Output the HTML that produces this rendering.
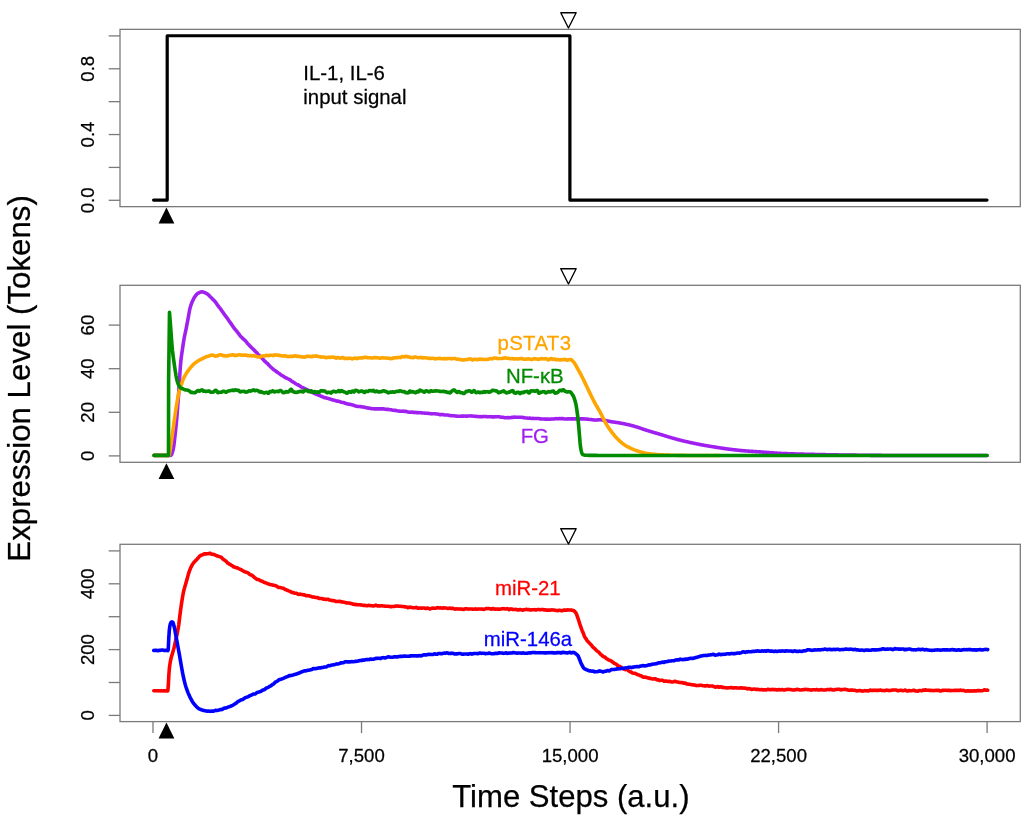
<!DOCTYPE html>
<html><head><meta charset="utf-8"><style>
html,body{margin:0;padding:0;background:#fff;width:1024px;height:818px;overflow:hidden}
svg{display:block;will-change:transform}
text{font-family:"Liberation Sans", sans-serif;fill:#000;stroke:#000;stroke-width:0.25px}
.tk{font-size:18.6px}
.an{font-size:20.4px}
.ti{font-size:31.3px}
</style></head><body>
<svg width="1024" height="818" viewBox="0 0 1024 818">
<rect width="1024" height="818" fill="#fff"/>
<rect x="120.0" y="29.35" width="900.3" height="177.3" fill="none" stroke="#7a7a7a" stroke-width="1.3"/>
<rect x="120.0" y="285.3" width="900.3" height="177.0" fill="none" stroke="#7a7a7a" stroke-width="1.3"/>
<rect x="120.0" y="544.3" width="900.3" height="177.3" fill="none" stroke="#7a7a7a" stroke-width="1.3"/>
<line x1="108.7" y1="200.30" x2="120.0" y2="200.30" stroke="#7a7a7a" stroke-width="1.3"/>
<line x1="108.7" y1="167.42" x2="120.0" y2="167.42" stroke="#7a7a7a" stroke-width="1.3"/>
<line x1="108.7" y1="134.54" x2="120.0" y2="134.54" stroke="#7a7a7a" stroke-width="1.3"/>
<line x1="108.7" y1="101.66" x2="120.0" y2="101.66" stroke="#7a7a7a" stroke-width="1.3"/>
<line x1="108.7" y1="68.78" x2="120.0" y2="68.78" stroke="#7a7a7a" stroke-width="1.3"/>
<line x1="108.7" y1="35.90" x2="120.0" y2="35.90" stroke="#7a7a7a" stroke-width="1.3"/>
<text transform="translate(93.50 200.30) rotate(-90) scale(1 1.035)" text-anchor="middle" class="tk">0.0</text>
<text transform="translate(93.50 134.54) rotate(-90) scale(1 1.035)" text-anchor="middle" class="tk">0.4</text>
<text transform="translate(93.50 68.78) rotate(-90) scale(1 1.035)" text-anchor="middle" class="tk">0.8</text>
<line x1="108.7" y1="455.90" x2="120.0" y2="455.90" stroke="#7a7a7a" stroke-width="1.3"/>
<line x1="108.7" y1="412.30" x2="120.0" y2="412.30" stroke="#7a7a7a" stroke-width="1.3"/>
<line x1="108.7" y1="368.70" x2="120.0" y2="368.70" stroke="#7a7a7a" stroke-width="1.3"/>
<line x1="108.7" y1="325.10" x2="120.0" y2="325.10" stroke="#7a7a7a" stroke-width="1.3"/>
<text transform="translate(93.50 455.90) rotate(-90) scale(1 1.035)" text-anchor="middle" class="tk">0</text>
<text transform="translate(93.50 412.30) rotate(-90) scale(1 1.035)" text-anchor="middle" class="tk">20</text>
<text transform="translate(93.50 368.70) rotate(-90) scale(1 1.035)" text-anchor="middle" class="tk">40</text>
<text transform="translate(93.50 325.10) rotate(-90) scale(1 1.035)" text-anchor="middle" class="tk">60</text>
<line x1="108.7" y1="715.40" x2="120.0" y2="715.40" stroke="#7a7a7a" stroke-width="1.3"/>
<line x1="108.7" y1="682.50" x2="120.0" y2="682.50" stroke="#7a7a7a" stroke-width="1.3"/>
<line x1="108.7" y1="649.60" x2="120.0" y2="649.60" stroke="#7a7a7a" stroke-width="1.3"/>
<line x1="108.7" y1="616.70" x2="120.0" y2="616.70" stroke="#7a7a7a" stroke-width="1.3"/>
<line x1="108.7" y1="583.80" x2="120.0" y2="583.80" stroke="#7a7a7a" stroke-width="1.3"/>
<line x1="108.7" y1="550.90" x2="120.0" y2="550.90" stroke="#7a7a7a" stroke-width="1.3"/>
<text transform="translate(93.50 715.40) rotate(-90) scale(1 1.035)" text-anchor="middle" class="tk">0</text>
<text transform="translate(93.50 649.60) rotate(-90) scale(1 1.035)" text-anchor="middle" class="tk">200</text>
<text transform="translate(93.50 583.80) rotate(-90) scale(1 1.035)" text-anchor="middle" class="tk">400</text>
<line x1="153.00" y1="721.6" x2="153.00" y2="733.1" stroke="#7a7a7a" stroke-width="1.3"/>
<text transform="translate(153.00 761.90) scale(1 1.035)" text-anchor="middle" class="tk">0</text>
<line x1="361.52" y1="721.6" x2="361.52" y2="733.1" stroke="#7a7a7a" stroke-width="1.3"/>
<text transform="translate(361.52 761.90) scale(1 1.035)" text-anchor="middle" class="tk">7,500</text>
<line x1="570.05" y1="721.6" x2="570.05" y2="733.1" stroke="#7a7a7a" stroke-width="1.3"/>
<text transform="translate(570.05 761.90) scale(1 1.035)" text-anchor="middle" class="tk">15,000</text>
<line x1="778.57" y1="721.6" x2="778.57" y2="733.1" stroke="#7a7a7a" stroke-width="1.3"/>
<text transform="translate(778.57 761.90) scale(1 1.035)" text-anchor="middle" class="tk">22,500</text>
<line x1="987.09" y1="721.6" x2="987.09" y2="733.1" stroke="#7a7a7a" stroke-width="1.3"/>
<text transform="translate(987.09 761.90) scale(1 1.035)" text-anchor="middle" class="tk">30,000</text>
<polyline points="153.60,200.10 167.20,200.10 167.20,35.75 569.90,35.75 569.90,200.10 987.00,200.10" fill="none" stroke="#000000" stroke-width="3.2" stroke-linejoin="round" stroke-linecap="round"/>
<polyline points="154.00,455.40 170.30,455.40 170.80,455.30 171.30,454.85 171.80,454.01 172.30,452.54 172.80,450.77 173.30,448.62 173.80,445.89 174.30,442.08 174.80,437.53 175.30,432.89 175.80,428.29 176.30,423.40 176.80,417.93 177.30,411.39 177.80,404.89 178.30,398.72 178.80,391.74 179.30,383.65 179.80,374.86 180.30,367.34 180.80,361.56 181.30,357.04 181.80,353.45 182.30,350.22 182.80,346.85 183.30,343.46 183.80,340.27 184.30,337.47 184.80,334.99 185.30,332.64 185.80,330.28 186.30,327.79 186.80,325.26 187.30,322.70 187.80,320.12 188.30,317.42 188.80,314.53 189.30,311.69 189.80,309.15 190.30,307.15 190.80,305.51 191.30,304.07 191.80,302.78 192.30,301.60 192.80,300.50 193.30,299.45 193.80,298.47 194.30,297.58 194.80,296.79 195.30,296.08 195.80,295.41 196.30,294.78 196.80,294.21 197.30,293.73 197.80,293.36 198.30,293.08 198.80,292.81 199.30,292.57 199.80,292.35 200.30,292.16 200.80,292.01 201.30,291.91 201.80,291.85 202.30,291.85 202.80,291.94 203.30,292.10 203.80,292.27 204.30,292.45 204.80,292.64 205.30,292.88 205.80,293.12 206.30,293.34 206.80,293.62 207.30,293.96 207.80,294.32 208.30,294.74 208.80,295.22 209.30,295.75 209.80,296.30 210.30,296.80 210.80,297.26 211.30,297.75 211.80,298.24 212.30,298.71 212.80,299.25 213.30,299.79 213.80,300.28 214.30,300.78 214.80,301.33 215.30,301.89 215.80,302.48 216.30,303.16 216.80,303.91 217.30,304.67 217.80,305.40 218.30,306.09 218.80,306.75 219.30,307.36 219.80,307.94 220.30,308.55 220.80,309.28 221.30,310.08 221.80,310.80 222.30,311.44 222.80,312.09 223.30,312.78 223.80,313.50 224.30,314.23 224.80,314.93 225.30,315.64 225.80,316.33 226.30,316.96 226.80,317.61 227.30,318.30 227.80,319.04 228.30,319.80 228.80,320.55 229.30,321.26 229.80,321.96 230.30,322.66 230.80,323.36 231.30,324.07 231.80,324.81 232.30,325.55 232.80,326.28 233.30,326.98 233.80,327.67 234.30,328.35 234.80,329.00 235.30,329.58 235.80,330.14 236.30,330.73 236.80,331.35 237.30,332.01 237.80,332.65 238.30,333.27 238.80,333.93 239.30,334.61 239.80,335.27 240.30,335.89 240.80,336.48 241.30,336.98 241.80,337.42 242.30,337.91 242.80,338.43 243.30,338.93 243.80,339.38 244.30,339.83 244.80,340.30 245.30,340.79 245.80,341.31 246.30,341.87 246.80,342.52 247.30,343.19 247.80,343.75 248.30,344.25 248.80,344.76 249.30,345.33 249.80,345.88 250.30,346.36 250.80,346.82 251.30,347.35 251.80,347.93 252.30,348.42 252.80,348.79 253.30,349.20 253.80,349.73 254.30,350.30 254.80,350.85 255.30,351.37 255.80,351.82 256.30,352.26 256.80,352.77 257.30,353.35 257.80,353.93 258.30,354.48 258.80,354.99 259.30,355.48 259.80,355.97 260.30,356.50 260.80,357.05 261.30,357.60 261.80,358.11 262.30,358.57 262.80,359.07 263.30,359.62 263.80,360.15 264.30,360.64 264.80,361.16 265.30,361.67 265.80,362.14 266.30,362.58 266.80,362.99 267.30,363.41 267.80,363.89 268.30,364.43 268.80,364.99 269.30,365.54 269.80,366.06 270.30,366.54 270.80,366.98 271.30,367.45 271.80,367.95 272.30,368.41 272.80,368.82 273.30,369.25 273.80,369.66 274.30,370.00 274.80,370.32 275.30,370.71 275.80,371.16 276.30,371.58 276.80,371.91 277.30,372.20 277.80,372.53 278.30,372.90 278.80,373.22 279.30,373.51 279.80,373.87 280.30,374.32 280.80,374.73 281.30,375.07 281.80,375.39 282.30,375.64 282.80,375.87 283.30,376.20 283.80,376.56 284.30,376.89 284.80,377.21 285.30,377.53 285.80,377.78 286.30,377.98 286.80,378.21 287.30,378.48 287.80,378.74 288.30,378.99 288.80,379.24 289.30,379.48 289.80,379.73 290.30,380.04 290.80,380.41 291.30,380.84 291.80,381.22 292.30,381.55 292.80,381.83 293.30,382.12 293.80,382.44 294.30,382.76 294.80,383.07 295.30,383.40 295.80,383.73 296.30,384.04 296.80,384.31 297.30,384.55 297.80,384.76 298.30,384.99 298.80,385.27 299.30,385.59 299.80,385.94 300.30,386.28 300.80,386.64 301.30,387.00 301.80,387.30 302.30,387.53 302.80,387.69 303.30,387.85 303.80,388.10 304.30,388.36 304.80,388.57 305.30,388.80 305.80,389.05 306.30,389.30 306.80,389.54 307.30,389.78 307.80,390.05 308.30,390.34 308.80,390.67 309.30,391.07 309.80,391.42 310.30,391.63 310.80,391.77 311.30,391.93 311.80,392.13 312.30,392.39 312.80,392.66 313.30,392.89 313.80,393.11 314.30,393.36 314.80,393.59 315.30,393.78 315.80,394.00 316.30,394.24 316.80,394.41 317.30,394.57 317.80,394.77 318.30,395.02 318.80,395.25 319.30,395.44 319.80,395.68 320.30,395.95 320.80,396.16 321.30,396.30 321.80,396.45 322.30,396.69 322.80,396.95 323.30,397.13 323.80,397.29 324.30,397.52 324.80,397.72 325.30,397.82 325.80,397.88 326.30,397.99 326.80,398.13 327.30,398.25 327.80,398.36 328.30,398.51 328.80,398.68 329.30,398.87 329.80,399.00 330.30,399.10 330.80,399.26 331.30,399.50 331.80,399.75 332.30,399.89 332.80,399.92 333.30,399.97 333.80,400.11 334.30,400.30 334.80,400.44 335.30,400.57 335.80,400.72 336.30,400.92 336.80,401.09 337.30,401.15 337.80,401.16 338.30,401.21 338.80,401.33 339.30,401.47 339.80,401.64 340.30,401.84 340.80,402.05 341.30,402.22 341.80,402.35 342.30,402.45 342.80,402.49 343.30,402.50 343.80,402.59 344.30,402.78 344.80,403.03 345.30,403.27 345.80,403.45 346.30,403.57 346.80,403.72 347.30,403.90 347.80,404.04 348.30,404.12 348.80,404.21 349.30,404.31 349.80,404.35 350.30,404.36 350.80,404.46 351.30,404.65 351.80,404.82 352.30,404.92 352.80,405.00 353.30,405.12 353.80,405.31 354.30,405.52 354.80,405.71 355.30,405.88 355.80,406.05 356.30,406.20 356.80,406.28 357.30,406.35 357.80,406.43 358.30,406.50 358.80,406.49 359.30,406.48 359.80,406.53 360.30,406.59 360.80,406.62 361.30,406.69 361.80,406.81 362.30,406.92 362.80,406.99 363.30,407.01 363.80,407.07 364.30,407.22 364.80,407.38 365.30,407.47 365.80,407.55 366.30,407.65 366.80,407.78 367.30,407.92 367.80,408.04 368.30,408.09 368.80,408.08 369.30,408.11 369.80,408.21 370.30,408.38 370.80,408.54 371.30,408.65 371.80,408.69 372.30,408.67 372.80,408.69 373.30,408.76 373.80,408.81 374.30,408.83 374.80,408.84 375.30,408.85 375.80,408.87 376.30,408.87 376.80,408.84 377.30,408.83 377.80,408.86 378.30,408.87 378.80,408.85 379.30,408.84 379.80,408.84 380.30,408.83 380.80,408.84 381.30,408.86 381.80,408.88 382.30,408.88 382.80,408.84 383.30,408.82 383.80,408.87 384.30,409.00 384.80,409.15 385.30,409.24 385.80,409.31 386.30,409.35 386.80,409.34 387.30,409.35 387.80,409.37 388.30,409.38 388.80,409.42 389.30,409.54 389.80,409.68 390.30,409.77 390.80,409.82 391.30,409.86 391.80,409.96 392.30,410.10 392.80,410.20 393.30,410.26 393.80,410.31 394.30,410.35 394.80,410.37 395.30,410.39 395.80,410.46 396.30,410.57 396.80,410.72 397.30,410.84 397.80,410.91 398.30,410.98 398.80,411.06 399.30,411.13 399.80,411.16 400.30,411.21 400.80,411.25 401.30,411.24 401.80,411.21 402.30,411.18 402.80,411.16 403.30,411.17 403.80,411.23 404.30,411.31 404.80,411.40 405.30,411.40 405.80,411.34 406.30,411.41 406.80,411.59 407.30,411.76 407.80,411.88 408.30,411.99 408.80,412.12 409.30,412.22 409.80,412.28 410.30,412.27 410.80,412.21 411.30,412.15 411.80,412.15 412.30,412.23 412.80,412.37 413.30,412.44 413.80,412.38 414.30,412.32 414.80,412.35 415.30,412.45 415.80,412.55 416.30,412.62 416.80,412.60 417.30,412.56 417.80,412.60 418.30,412.64 418.80,412.69 419.30,412.72 419.80,412.69 420.30,412.65 420.80,412.69 421.30,412.81 421.80,412.93 422.30,412.97 422.80,412.94 423.30,412.95 423.80,413.01 424.30,413.07 424.80,413.13 425.30,413.18 425.80,413.22 426.30,413.26 426.80,413.30 427.30,413.32 427.80,413.34 428.30,413.39 428.80,413.44 429.30,413.51 429.80,413.56 430.30,413.61 430.80,413.67 431.30,413.77 431.80,413.83 432.30,413.81 432.80,413.76 433.30,413.75 433.80,413.76 434.30,413.76 434.80,413.77 435.30,413.83 435.80,413.92 436.30,414.00 436.80,414.03 437.30,414.02 437.80,414.03 438.30,414.15 438.80,414.36 439.30,414.54 439.80,414.62 440.30,414.64 440.80,414.64 441.30,414.61 441.80,414.55 442.30,414.52 442.80,414.56 443.30,414.69 443.80,414.83 444.30,414.91 444.80,414.93 445.30,414.94 445.80,414.95 446.30,414.93 446.80,414.93 447.30,414.99 447.80,415.08 448.30,415.20 448.80,415.31 449.30,415.41 449.80,415.50 450.30,415.57 450.80,415.63 451.30,415.66 451.80,415.68 452.30,415.72 452.80,415.73 453.30,415.70 453.80,415.71 454.30,415.79 454.80,415.90 455.30,416.00 455.80,416.07 456.30,416.11 456.80,416.16 457.30,416.20 457.80,416.20 458.30,416.18 458.80,416.21 459.30,416.24 459.80,416.24 460.30,416.22 460.80,416.18 461.30,416.13 461.80,416.09 462.30,416.10 462.80,416.14 463.30,416.13 463.80,416.08 464.30,416.04 464.80,416.06 465.30,416.13 465.80,416.17 466.30,416.12 466.80,416.09 467.30,416.11 467.80,416.09 468.30,416.02 468.80,416.00 469.30,416.00 469.80,415.97 470.30,415.94 470.80,415.92 471.30,415.91 471.80,415.94 472.30,416.00 472.80,416.09 473.30,416.19 473.80,416.21 474.30,416.22 474.80,416.27 475.30,416.34 475.80,416.39 476.30,416.41 476.80,416.45 477.30,416.49 477.80,416.53 478.30,416.58 478.80,416.64 479.30,416.68 479.80,416.65 480.30,416.63 480.80,416.66 481.30,416.71 481.80,416.71 482.30,416.66 482.80,416.59 483.30,416.56 483.80,416.55 484.30,416.54 484.80,416.52 485.30,416.53 485.80,416.58 486.30,416.63 486.80,416.66 487.30,416.74 487.80,416.82 488.30,416.82 488.80,416.79 489.30,416.73 489.80,416.67 490.30,416.67 490.80,416.73 491.30,416.81 491.80,416.84 492.30,416.84 492.80,416.86 493.30,416.86 493.80,416.86 494.30,416.86 494.80,416.83 495.30,416.82 495.80,416.82 496.30,416.78 496.80,416.74 497.30,416.71 497.80,416.72 498.30,416.74 498.80,416.74 499.30,416.79 499.80,416.90 500.30,417.02 500.80,417.12 501.30,417.22 501.80,417.29 502.30,417.31 502.80,417.32 503.30,417.36 503.80,417.47 504.30,417.62 504.80,417.72 505.30,417.75 505.80,417.73 506.30,417.71 506.80,417.67 507.30,417.65 507.80,417.63 508.30,417.64 508.80,417.69 509.30,417.71 509.80,417.67 510.30,417.59 510.80,417.54 511.30,417.49 511.80,417.41 512.30,417.37 512.80,417.36 513.30,417.30 513.80,417.19 514.30,417.12 514.80,417.15 515.30,417.21 515.80,417.21 516.30,417.19 516.80,417.19 517.30,417.20 517.80,417.21 518.30,417.23 518.80,417.23 519.30,417.21 519.80,417.19 520.30,417.21 520.80,417.26 521.30,417.31 521.80,417.36 522.30,417.41 522.80,417.50 523.30,417.59 523.80,417.64 524.30,417.71 524.80,417.83 525.30,417.93 525.80,417.96 526.30,417.96 526.80,417.99 527.30,418.08 527.80,418.17 528.30,418.21 528.80,418.17 529.30,418.11 529.80,418.11 530.30,418.19 530.80,418.31 531.30,418.41 531.80,418.46 532.30,418.44 532.80,418.40 533.30,418.40 533.80,418.45 534.30,418.51 534.80,418.53 535.30,418.52 535.80,418.52 536.30,418.52 536.80,418.51 537.30,418.54 537.80,418.56 538.30,418.54 538.80,418.57 539.30,418.67 539.80,418.78 540.30,418.86 540.80,418.91 541.30,418.94 541.80,418.99 542.30,419.03 542.80,419.00 543.30,418.96 543.80,418.98 544.30,419.05 544.80,419.08 545.30,419.06 545.80,419.08 546.30,419.11 546.80,419.11 547.30,419.09 547.80,419.11 548.30,419.16 548.80,419.22 549.30,419.25 549.80,419.22 550.30,419.16 550.80,419.07 551.30,419.01 551.80,419.02 552.30,419.01 552.80,418.98 553.30,418.97 553.80,418.96 554.30,418.91 554.80,418.82 555.30,418.68 555.80,418.64 556.30,418.67 556.80,418.69 557.30,418.70 557.80,418.72 558.30,418.67 558.80,418.60 559.30,418.61 559.80,418.68 560.30,418.69 560.80,418.64 561.30,418.63 561.80,418.63 562.30,418.64 562.80,418.66 563.30,418.72 563.80,418.83 564.30,418.94 564.80,419.00 565.30,419.01 565.80,419.01 566.30,418.99 566.80,418.94 567.30,418.88 567.80,418.87 568.30,418.87 568.80,418.85 569.30,418.88 569.80,418.94 570.30,418.94 570.80,418.87 571.30,418.83 571.80,418.84 572.30,418.84 572.80,418.84 573.30,418.85 573.80,418.87 574.30,418.90 574.80,418.93 575.30,418.90 575.80,418.85 576.30,418.86 576.80,418.88 577.30,418.84 577.80,418.78 578.30,418.78 578.80,418.82 579.30,418.86 579.80,418.90 580.30,418.92 580.80,418.91 581.30,418.89 581.80,418.87 582.30,418.85 582.80,418.87 583.30,418.88 583.80,418.86 584.30,418.88 584.80,418.94 585.30,419.00 585.80,419.07 586.30,419.16 586.80,419.19 587.30,419.16 587.80,419.16 588.30,419.23 588.80,419.34 589.30,419.42 589.80,419.46 590.30,419.50 590.80,419.54 591.30,419.57 591.80,419.65 592.30,419.75 592.80,419.81 593.30,419.87 593.80,419.94 594.30,419.98 594.80,420.01 595.30,420.05 595.80,420.09 596.30,420.07 596.80,420.00 597.30,419.94 597.80,419.88 598.30,419.84 598.80,419.80 599.30,419.75 599.80,419.74 600.30,419.76 600.80,419.81 601.30,419.85 601.80,419.90 602.30,419.96 602.80,420.01 603.30,420.08 603.80,420.15 604.30,420.24 604.80,420.33 605.30,420.43 605.80,420.54 606.30,420.65 606.80,420.76 607.30,420.88 607.80,420.99 608.30,421.11 608.80,421.22 609.30,421.33 609.80,421.43 610.30,421.53 610.80,421.62 611.30,421.70 611.80,421.78 612.30,421.86 612.80,421.93 613.30,422.01 613.80,422.08 614.30,422.15 614.80,422.22 615.30,422.29 615.80,422.36 616.30,422.42 616.80,422.50 617.30,422.57 617.80,422.64 618.30,422.72 618.80,422.80 619.30,422.88 619.80,422.96 620.30,423.05 620.80,423.15 621.30,423.24 621.80,423.33 622.30,423.43 622.80,423.53 623.30,423.63 623.80,423.73 624.30,423.84 624.80,423.95 625.30,424.05 625.80,424.16 626.30,424.28 626.80,424.39 627.30,424.50 627.80,424.62 628.30,424.74 628.80,424.86 629.30,424.98 629.80,425.10 630.30,425.22 630.80,425.35 631.30,425.47 631.80,425.60 632.30,425.73 632.80,425.86 633.30,425.99 633.80,426.13 634.30,426.26 634.80,426.40 635.30,426.55 635.80,426.70 636.30,426.85 636.80,427.00 637.30,427.16 637.80,427.32 638.30,427.49 638.80,427.65 639.30,427.82 639.80,427.99 640.30,428.16 640.80,428.33 641.30,428.50 641.80,428.67 642.30,428.84 642.80,429.01 643.30,429.18 643.80,429.35 644.30,429.52 644.80,429.69 645.30,429.86 645.80,430.02 646.30,430.18 646.80,430.34 647.30,430.50 647.80,430.66 648.30,430.81 648.80,430.96 649.30,431.12 649.80,431.27 650.30,431.42 650.80,431.57 651.30,431.72 651.80,431.87 652.30,432.02 652.80,432.17 653.30,432.32 653.80,432.47 654.30,432.61 654.80,432.76 655.30,432.91 655.80,433.06 656.30,433.21 656.80,433.35 657.30,433.50 657.80,433.65 658.30,433.80 658.80,433.95 659.30,434.09 659.80,434.24 660.30,434.39 660.80,434.54 661.30,434.69 661.80,434.84 662.30,434.99 662.80,435.14 663.30,435.30 663.80,435.45 664.30,435.60 664.80,435.76 665.30,435.91 665.80,436.07 666.30,436.22 666.80,436.38 667.30,436.53 667.80,436.68 668.30,436.84 668.80,436.99 669.30,437.14 669.80,437.29 670.30,437.44 670.80,437.59 671.30,437.74 671.80,437.88 672.30,438.03 672.80,438.17 673.30,438.31 673.80,438.45 674.30,438.59 674.80,438.73 675.30,438.86 675.80,439.00 676.30,439.13 676.80,439.26 677.30,439.39 677.80,439.52 678.30,439.65 678.80,439.78 679.30,439.91 679.80,440.04 680.30,440.17 680.80,440.29 681.30,440.42 681.80,440.54 682.30,440.66 682.80,440.79 683.30,440.91 683.80,441.03 684.30,441.15 684.80,441.27 685.30,441.39 685.80,441.50 686.30,441.62 686.80,441.74 687.30,441.85 687.80,441.96 688.30,442.08 688.80,442.19 689.30,442.30 689.80,442.41 690.30,442.52 690.80,442.63 691.30,442.74 691.80,442.85 692.30,442.96 692.80,443.06 693.30,443.17 693.80,443.28 694.30,443.38 694.80,443.49 695.30,443.59 695.80,443.69 696.30,443.79 696.80,443.89 697.30,443.99 697.80,444.09 698.30,444.19 698.80,444.29 699.30,444.39 699.80,444.49 700.30,444.58 700.80,444.68 701.30,444.77 701.80,444.86 702.30,444.96 702.80,445.05 703.30,445.14 703.80,445.23 704.30,445.32 704.80,445.41 705.30,445.49 705.80,445.58 706.30,445.67 706.80,445.75 707.30,445.84 707.80,445.92 708.30,446.01 708.80,446.09 709.30,446.17 709.80,446.26 710.30,446.34 710.80,446.42 711.30,446.50 711.80,446.58 712.30,446.66 712.80,446.74 713.30,446.82 713.80,446.90 714.30,446.98 714.80,447.06 715.30,447.14 715.80,447.22 716.30,447.29 716.80,447.37 717.30,447.45 717.80,447.53 718.30,447.61 718.80,447.68 719.30,447.76 719.80,447.84 720.30,447.91 720.80,447.99 721.30,448.07 721.80,448.14 722.30,448.22 722.80,448.29 723.30,448.36 723.80,448.44 724.30,448.51 724.80,448.58 725.30,448.65 725.80,448.72 726.30,448.79 726.80,448.86 727.30,448.93 727.80,448.99 728.30,449.06 728.80,449.12 729.30,449.19 729.80,449.25 730.30,449.31 730.80,449.37 731.30,449.44 731.80,449.50 732.30,449.56 732.80,449.62 733.30,449.68 733.80,449.74 734.30,449.80 734.80,449.86 735.30,449.91 735.80,449.97 736.30,450.03 736.80,450.08 737.30,450.14 737.80,450.19 738.30,450.25 738.80,450.30 739.30,450.35 739.80,450.40 740.30,450.45 740.80,450.50 741.30,450.55 741.80,450.59 742.30,450.64 742.80,450.68 743.30,450.73 743.80,450.77 744.30,450.81 744.80,450.85 745.30,450.89 745.80,450.93 746.30,450.97 746.80,451.01 747.30,451.04 747.80,451.08 748.30,451.12 748.80,451.15 749.30,451.19 749.80,451.22 750.30,451.25 750.80,451.29 751.30,451.32 751.80,451.36 752.30,451.39 752.80,451.42 753.30,451.45 753.80,451.49 754.30,451.52 754.80,451.55 755.30,451.58 755.80,451.62 756.30,451.65 756.80,451.68 757.30,451.72 757.80,451.75 758.30,451.78 758.80,451.82 759.30,451.85 759.80,451.89 760.30,451.92 760.80,451.96 761.30,451.99 761.80,452.03 762.30,452.07 762.80,452.10 763.30,452.14 763.80,452.18 764.30,452.22 764.80,452.26 765.30,452.30 765.80,452.33 766.30,452.37 766.80,452.41 767.30,452.45 767.80,452.49 768.30,452.53 768.80,452.57 769.30,452.61 769.80,452.65 770.30,452.69 770.80,452.73 771.30,452.76 771.80,452.80 772.30,452.84 772.80,452.88 773.30,452.91 773.80,452.95 774.30,452.99 774.80,453.02 775.30,453.06 775.80,453.09 776.30,453.13 776.80,453.16 777.30,453.19 777.80,453.22 778.30,453.25 778.80,453.28 779.30,453.31 779.80,453.34 780.30,453.37 780.80,453.40 781.30,453.42 781.80,453.45 782.30,453.47 782.80,453.49 783.30,453.51 783.80,453.53 784.30,453.55 784.80,453.57 785.30,453.59 785.80,453.61 786.30,453.63 786.80,453.65 787.30,453.67 787.80,453.69 788.30,453.71 788.80,453.73 789.30,453.74 789.80,453.76 790.30,453.78 790.80,453.79 791.30,453.81 791.80,453.83 792.30,453.84 792.80,453.86 793.30,453.87 793.80,453.89 794.30,453.90 794.80,453.92 795.30,453.93 795.80,453.95 796.30,453.96 796.80,453.98 797.30,453.99 797.80,454.01 798.30,454.02 798.80,454.03 799.30,454.05 799.80,454.06 800.30,454.07 800.80,454.09 801.30,454.10 801.80,454.11 802.30,454.13 802.80,454.14 803.30,454.15 803.80,454.16 804.30,454.18 804.80,454.19 805.30,454.20 805.80,454.21 806.30,454.22 806.80,454.24 807.30,454.25 807.80,454.26 808.30,454.27 808.80,454.29 809.30,454.30 809.80,454.31 810.30,454.32 810.80,454.33 811.30,454.35 811.80,454.36 812.30,454.37 812.80,454.38 813.30,454.39 813.80,454.41 814.30,454.42 814.80,454.43 815.30,454.44 815.80,454.45 816.30,454.47 816.80,454.48 817.30,454.49 817.80,454.50 818.30,454.51 818.80,454.52 819.30,454.54 819.80,454.55 820.30,454.56 820.80,454.57 821.30,454.58 821.80,454.59 822.30,454.60 822.80,454.62 823.30,454.63 823.80,454.64 824.30,454.65 824.80,454.66 825.30,454.67 825.80,454.68 826.30,454.69 826.80,454.70 827.30,454.71 827.80,454.72 828.30,454.74 828.80,454.75 829.30,454.76 829.80,454.77 830.30,454.78 830.80,454.79 831.30,454.80 831.80,454.81 832.30,454.82 832.80,454.83 833.30,454.84 833.80,454.85 834.30,454.86 834.80,454.87 835.30,454.87 835.80,454.88 836.30,454.89 836.80,454.90 837.30,454.91 837.80,454.92 838.30,454.93 838.80,454.94 839.30,454.95 839.80,454.95 840.30,454.96 840.80,454.97 841.30,454.98 841.80,454.99 842.30,454.99 842.80,455.00 843.30,455.01 843.80,455.02 844.30,455.03 844.80,455.03 845.30,455.04 845.80,455.05 846.30,455.05 846.80,455.06 847.30,455.07 847.80,455.07 848.30,455.08 848.80,455.09 849.30,455.09 849.80,455.10 850.30,455.10 850.80,455.11 851.30,455.12 851.80,455.12 852.30,455.13 852.80,455.13 853.30,455.14 853.80,455.14 854.30,455.15 854.80,455.16 855.30,455.16 855.80,455.17 856.30,455.17 856.80,455.18 857.30,455.18 857.80,455.19 858.30,455.20 858.80,455.20 859.30,455.21 859.80,455.21 860.30,455.22 860.80,455.22 861.30,455.23 861.80,455.24 862.30,455.24 862.80,455.25 863.30,455.25 863.80,455.26 864.30,455.26 864.80,455.27 865.30,455.27 865.80,455.28 866.30,455.29 866.80,455.29 867.30,455.30 867.80,455.30 868.30,455.31 868.80,455.31 869.30,455.32 869.80,455.32 870.30,455.33 870.80,455.33 871.30,455.34 871.80,455.34 872.30,455.35 872.80,455.35 873.30,455.36 873.80,455.36 874.30,455.37 874.80,455.37 875.30,455.37 875.80,455.38 876.30,455.38 876.80,455.39 877.30,455.39 877.80,455.40 878.30,455.40 878.80,455.41 879.30,455.41 879.80,455.41 880.30,455.42 880.80,455.42 881.30,455.42 881.80,455.43 882.30,455.43 882.80,455.44 883.30,455.44 883.80,455.44 884.30,455.45 884.80,455.45 885.30,455.45 885.80,455.45 886.30,455.46 886.80,455.46 887.30,455.46 887.80,455.47 888.30,455.47 888.80,455.47 889.30,455.47 889.80,455.48 890.30,455.48 890.80,455.48 891.30,455.48 891.80,455.48 892.30,455.49 892.80,455.49 893.30,455.49 893.80,455.49 894.30,455.49 894.80,455.49 895.30,455.49 895.80,455.50 896.30,455.50 896.80,455.50 897.30,455.50 897.80,455.50 898.30,455.50 898.80,455.50 899.30,455.50 899.80,455.50 900.30,455.50 900.80,455.50 901.30,455.50 901.80,455.50 902.30,455.50 902.80,455.50 903.30,455.50 903.80,455.50 904.30,455.50 904.80,455.50 905.30,455.50 905.80,455.50 906.30,455.50 906.80,455.50 907.30,455.50 907.80,455.50 908.30,455.50 908.80,455.50 909.30,455.50 909.80,455.50 910.30,455.50 910.80,455.50 911.30,455.50 911.80,455.50 912.30,455.50 912.80,455.50 913.30,455.50 913.80,455.50 914.30,455.50 914.80,455.50 915.30,455.50 915.80,455.50 916.30,455.50 916.80,455.50 917.30,455.50 917.80,455.50 918.30,455.50 918.80,455.50 919.30,455.50 919.80,455.50 920.30,455.50 920.80,455.50 921.30,455.50 921.80,455.50 922.30,455.50 922.80,455.50 923.30,455.50 923.80,455.50 924.30,455.50 924.80,455.50 925.30,455.50 925.80,455.50 926.30,455.50 926.80,455.50 927.30,455.50 927.80,455.50 928.30,455.50 928.80,455.50 929.30,455.50 929.80,455.50 930.30,455.50 930.80,455.50 931.30,455.50 931.80,455.50 932.30,455.50 932.80,455.50 933.30,455.50 933.80,455.50 934.30,455.50 934.80,455.50 935.30,455.50 935.80,455.50 936.30,455.50 936.80,455.50 937.30,455.50 937.80,455.50 938.30,455.50 938.80,455.50 939.30,455.50 939.80,455.50 940.30,455.50 940.80,455.50 941.30,455.50 941.80,455.50 942.30,455.50 942.80,455.50 943.30,455.50 943.80,455.50 944.30,455.50 944.80,455.50 945.30,455.50 945.80,455.50 946.30,455.50 946.80,455.50 947.30,455.50 947.80,455.50 948.30,455.50 948.80,455.50 949.30,455.50 949.80,455.50 950.30,455.50 950.80,455.50 951.30,455.50 951.80,455.50 952.30,455.50 952.80,455.50 953.30,455.50 953.80,455.50 954.30,455.50 954.80,455.50 955.30,455.50 955.80,455.50 956.30,455.50 956.80,455.50 957.30,455.50 957.80,455.50 958.30,455.50 958.80,455.50 959.30,455.50 959.80,455.50 960.30,455.50 960.80,455.50 961.30,455.50 961.80,455.50 962.30,455.50 962.80,455.50 963.30,455.50 963.80,455.50 964.30,455.50 964.80,455.50 965.30,455.50 965.80,455.50 966.30,455.50 966.80,455.50 967.30,455.50 967.80,455.50 968.30,455.50 968.80,455.50 969.30,455.50 969.80,455.50 970.30,455.50 970.80,455.50 971.30,455.50 971.80,455.50 972.30,455.50 972.80,455.50 973.30,455.50 973.80,455.50 974.30,455.50 974.80,455.50 975.30,455.50 975.80,455.50 976.30,455.50 976.80,455.50 977.30,455.50 977.80,455.50 978.30,455.50 978.80,455.50 979.30,455.50 979.80,455.50 980.30,455.50 980.80,455.50 981.30,455.50 981.80,455.50 982.30,455.50 982.80,455.50 983.30,455.50 983.80,455.50 984.30,455.50 984.80,455.50 985.30,455.50 985.80,455.50 986.30,455.50 986.80,455.50 987.10,455.50" fill="none" stroke="#A020F0" stroke-width="3.6" stroke-linejoin="round" stroke-linecap="round"/>
<polyline points="154.00,455.40 169.00,455.40 169.40,454.80 169.90,451.57 170.40,448.27 170.90,444.91 171.40,441.48 171.90,438.00 172.40,434.37 172.90,430.64 173.40,426.90 173.90,423.23 174.40,419.71 174.90,416.23 175.40,412.81 175.90,409.48 176.40,406.31 176.90,403.32 177.40,400.36 177.90,397.51 178.40,394.86 178.90,392.52 179.40,390.57 179.90,388.87 180.40,387.34 180.90,385.90 181.40,384.48 181.90,383.01 182.40,381.51 182.90,380.08 183.40,378.82 183.90,377.75 184.40,376.75 184.90,375.82 185.40,374.93 185.90,374.09 186.40,373.30 186.90,372.53 187.40,371.80 187.90,371.09 188.40,370.40 188.90,369.72 189.40,369.05 189.90,368.40 190.40,367.76 190.90,367.14 191.40,366.55 191.90,365.97 192.40,365.42 192.90,364.90 193.40,364.41 193.90,363.95 194.40,363.52 194.90,363.11 195.40,362.72 195.90,362.35 196.40,361.99 196.90,361.65 197.40,361.31 197.90,361.00 198.40,360.69 198.90,360.39 199.40,360.11 199.90,359.83 200.40,359.56 200.90,359.30 201.40,359.04 201.90,358.78 202.40,358.53 202.90,358.28 203.40,358.04 203.90,357.81 204.40,357.59 204.90,357.38 205.40,357.14 205.90,356.92 206.40,356.71 206.90,356.53 207.40,356.40 207.90,356.29 208.40,356.16 208.90,356.00 209.40,355.86 209.90,355.74 210.40,355.49 210.90,355.22 211.40,355.10 211.90,355.13 212.40,355.17 212.90,355.18 213.40,355.26 213.90,355.52 214.40,355.87 214.90,356.09 215.40,356.10 215.90,355.98 216.40,355.91 216.90,355.91 217.40,355.90 217.90,355.73 218.40,355.38 218.90,355.08 219.40,354.91 219.90,354.82 220.40,354.80 220.90,354.82 221.40,354.94 221.90,355.18 222.40,355.35 222.90,355.40 223.40,355.52 223.90,355.67 224.40,355.76 224.90,355.85 225.40,355.98 225.90,356.02 226.40,355.96 226.90,355.94 227.40,355.97 227.90,355.82 228.40,355.53 228.90,355.35 229.40,355.28 229.90,355.21 230.40,355.18 230.90,355.13 231.40,355.04 231.90,354.92 232.40,354.80 232.90,354.78 233.40,354.99 233.90,355.34 234.40,355.51 234.90,355.42 235.40,355.30 235.90,355.30 236.40,355.35 236.90,355.31 237.40,355.16 237.90,355.00 238.40,354.89 238.90,354.77 239.40,354.67 239.90,354.73 240.40,354.92 240.90,355.02 241.40,355.09 241.90,355.26 242.40,355.30 242.90,355.16 243.40,355.09 243.90,355.17 244.40,355.24 244.90,355.15 245.40,355.05 245.90,355.02 246.40,355.08 246.90,355.34 247.40,355.62 247.90,355.75 248.40,355.79 248.90,355.78 249.40,355.71 249.90,355.57 250.40,355.46 250.90,355.51 251.40,355.72 251.90,355.96 252.40,356.01 252.90,355.81 253.40,355.57 253.90,355.55 254.40,355.77 254.90,356.04 255.40,356.17 255.90,356.22 256.40,356.39 256.90,356.64 257.40,356.81 257.90,356.89 258.40,356.99 258.90,357.06 259.40,357.05 259.90,357.02 260.40,356.89 260.90,356.68 261.40,356.47 261.90,356.23 262.40,356.03 262.90,355.92 263.40,355.92 263.90,355.98 264.40,356.00 264.90,355.93 265.40,355.68 265.90,355.43 266.40,355.40 266.90,355.48 267.40,355.58 267.90,355.66 268.40,355.72 268.90,355.65 269.40,355.46 269.90,355.33 270.40,355.24 270.90,355.20 271.40,355.28 271.90,355.33 272.40,355.34 272.90,355.50 273.40,355.59 273.90,355.31 274.40,354.94 274.90,354.85 275.40,354.94 275.90,355.03 276.40,355.08 276.90,355.14 277.40,355.21 277.90,355.18 278.40,355.13 278.90,355.22 279.40,355.44 279.90,355.63 280.40,355.67 280.90,355.65 281.40,355.74 281.90,355.94 282.40,356.06 282.90,356.02 283.40,355.96 283.90,355.89 284.40,355.81 284.90,355.81 285.40,355.88 285.90,356.01 286.40,356.23 286.90,356.44 287.40,356.50 287.90,356.50 288.40,356.57 288.90,356.59 289.40,356.45 289.90,356.38 290.40,356.41 290.90,356.39 291.40,356.35 291.90,356.36 292.40,356.39 292.90,356.35 293.40,356.21 293.90,356.06 294.40,355.93 294.90,355.81 295.40,355.72 295.90,355.78 296.40,356.05 296.90,356.36 297.40,356.47 297.90,356.38 298.40,356.29 298.90,356.31 299.40,356.38 299.90,356.53 300.40,356.67 300.90,356.72 301.40,356.79 301.90,356.85 302.40,356.84 302.90,356.88 303.40,357.00 303.90,357.14 304.40,357.22 304.90,357.08 305.40,356.78 305.90,356.55 306.40,356.41 306.90,356.30 307.40,356.30 307.90,356.35 308.40,356.32 308.90,356.27 309.40,356.35 309.90,356.43 310.40,356.44 310.90,356.57 311.40,356.75 311.90,356.64 312.40,356.30 312.90,356.13 313.40,356.14 313.90,356.17 314.40,356.20 314.90,356.24 315.40,356.12 315.90,355.88 316.40,355.85 316.90,356.14 317.40,356.44 317.90,356.48 318.40,356.47 318.90,356.62 319.40,356.75 319.90,356.76 320.40,356.81 320.90,356.97 321.40,357.10 321.90,357.12 322.40,357.08 322.90,357.03 323.40,356.99 323.90,357.05 324.40,357.19 324.90,357.33 325.40,357.49 325.90,357.66 326.40,357.71 326.90,357.59 327.40,357.43 327.90,357.37 328.40,357.30 328.90,357.25 329.40,357.36 329.90,357.52 330.40,357.48 330.90,357.25 331.40,357.11 331.90,357.18 332.40,357.31 332.90,357.31 333.40,357.13 333.90,357.07 334.40,357.30 334.90,357.61 335.40,357.88 335.90,358.11 336.40,358.13 336.90,357.87 337.40,357.57 337.90,357.49 338.40,357.67 338.90,357.87 339.40,357.97 339.90,358.06 340.40,358.14 340.90,358.15 341.40,357.98 341.90,357.74 342.40,357.58 342.90,357.54 343.40,357.71 343.90,358.10 344.40,358.48 344.90,358.60 345.40,358.46 345.90,358.30 346.40,358.32 346.90,358.46 347.40,358.50 347.90,358.44 348.40,358.39 348.90,358.25 349.40,358.14 349.90,358.19 350.40,358.27 350.90,358.32 351.40,358.51 351.90,358.80 352.40,358.93 352.90,358.74 353.40,358.43 353.90,358.29 354.40,358.26 354.90,358.15 355.40,358.08 355.90,358.23 356.40,358.51 356.90,358.61 357.40,358.44 357.90,358.20 358.40,358.03 358.90,357.97 359.40,357.98 359.90,357.99 360.40,357.95 360.90,357.85 361.40,357.83 361.90,357.90 362.40,357.90 362.90,357.76 363.40,357.52 363.90,357.37 364.40,357.40 364.90,357.46 365.40,357.41 365.90,357.26 366.40,357.26 366.90,357.52 367.40,357.74 367.90,357.79 368.40,357.79 368.90,357.80 369.40,357.74 369.90,357.71 370.40,357.77 370.90,357.89 371.40,358.01 371.90,358.06 372.40,358.07 372.90,357.95 373.40,357.73 373.90,357.62 374.40,357.66 374.90,357.68 375.40,357.62 375.90,357.60 376.40,357.73 376.90,357.83 377.40,357.77 377.90,357.74 378.40,357.88 378.90,358.07 379.40,358.22 379.90,358.28 380.40,358.25 380.90,358.14 381.40,357.93 381.90,357.68 382.40,357.65 382.90,357.79 383.40,357.93 383.90,358.03 384.40,358.06 384.90,358.05 385.40,358.00 385.90,357.98 386.40,357.99 386.90,358.02 387.40,358.13 387.90,358.25 388.40,358.20 388.90,358.18 389.40,358.36 389.90,358.58 390.40,358.69 390.90,358.61 391.40,358.48 391.90,358.47 392.40,358.46 392.90,358.26 393.40,357.92 393.90,357.70 394.40,357.79 394.90,357.86 395.40,357.71 395.90,357.62 396.40,357.72 396.90,357.82 397.40,357.73 397.90,357.54 398.40,357.48 398.90,357.46 399.40,357.38 399.90,357.45 400.40,357.58 400.90,357.43 401.40,356.98 401.90,356.59 402.40,356.54 402.90,356.62 403.40,356.68 403.90,356.82 404.40,356.88 404.90,356.65 405.40,356.42 405.90,356.38 406.40,356.44 406.90,356.55 407.40,356.73 407.90,356.89 408.40,356.92 408.90,356.92 409.40,357.06 409.90,357.26 410.40,357.42 410.90,357.53 411.40,357.49 411.90,357.42 412.40,357.52 412.90,357.68 413.40,357.62 413.90,357.40 414.40,357.16 414.90,356.96 415.40,356.94 415.90,357.13 416.40,357.33 416.90,357.43 417.40,357.46 417.90,357.49 418.40,357.56 418.90,357.68 419.40,357.75 419.90,357.69 420.40,357.50 420.90,357.34 421.40,357.48 421.90,357.82 422.40,357.99 422.90,357.88 423.40,357.69 423.90,357.65 424.40,357.75 424.90,357.80 425.40,357.78 425.90,357.89 426.40,358.00 426.90,358.00 427.40,357.96 427.90,358.02 428.40,358.17 428.90,358.33 429.40,358.36 429.90,358.36 430.40,358.45 430.90,358.47 431.40,358.40 431.90,358.33 432.40,358.25 432.90,358.28 433.40,358.34 433.90,358.43 434.40,358.65 434.90,358.83 435.40,358.84 435.90,358.80 436.40,358.73 436.90,358.61 437.40,358.50 437.90,358.47 438.40,358.52 438.90,358.52 439.40,358.39 439.90,358.31 440.40,358.42 440.90,358.62 441.40,358.79 441.90,358.82 442.40,358.74 442.90,358.71 443.40,358.79 443.90,358.86 444.40,358.74 444.90,358.52 445.40,358.52 445.90,358.77 446.40,358.89 446.90,358.80 447.40,358.64 447.90,358.50 448.40,358.45 448.90,358.51 449.40,358.56 449.90,358.54 450.40,358.57 450.90,358.73 451.40,358.86 451.90,358.81 452.40,358.64 452.90,358.52 453.40,358.53 453.90,358.52 454.40,358.43 454.90,358.45 455.40,358.63 455.90,358.83 456.40,359.00 456.90,359.14 457.40,359.22 457.90,359.18 458.40,359.17 458.90,359.29 459.40,359.45 459.90,359.53 460.40,359.52 460.90,359.59 461.40,359.77 461.90,359.91 462.40,359.94 462.90,359.92 463.40,359.90 463.90,359.89 464.40,359.85 464.90,359.75 465.40,359.70 465.90,359.77 466.40,359.79 466.90,359.61 467.40,359.38 467.90,359.29 468.40,359.26 468.90,359.15 469.40,358.96 469.90,358.86 470.40,358.93 470.90,359.06 471.40,359.28 471.90,359.58 472.40,359.85 472.90,359.93 473.40,359.76 473.90,359.49 474.40,359.32 474.90,359.29 475.40,359.28 475.90,359.29 476.40,359.43 476.90,359.61 477.40,359.66 477.90,359.58 478.40,359.44 478.90,359.26 479.40,359.08 479.90,359.05 480.40,359.22 480.90,359.38 481.40,359.34 481.90,359.22 482.40,359.21 482.90,359.31 483.40,359.40 483.90,359.46 484.40,359.48 484.90,359.50 485.40,359.57 485.90,359.57 486.40,359.51 486.90,359.41 487.40,359.29 487.90,359.20 488.40,359.14 488.90,359.05 489.40,358.91 489.90,358.73 490.40,358.61 490.90,358.63 491.40,358.75 491.90,358.85 492.40,358.78 492.90,358.55 493.40,358.30 493.90,358.13 494.40,358.06 494.90,358.00 495.40,357.93 495.90,358.04 496.40,358.29 496.90,358.45 497.40,358.48 497.90,358.54 498.40,358.60 498.90,358.49 499.40,358.43 499.90,358.50 500.40,358.50 500.90,358.46 501.40,358.47 501.90,358.46 502.40,358.37 502.90,358.24 503.40,358.15 503.90,358.14 504.40,358.04 504.90,357.90 505.40,357.92 505.90,358.06 506.40,358.14 506.90,358.21 507.40,358.26 507.90,358.20 508.40,358.19 508.90,358.38 509.40,358.60 509.90,358.73 510.40,358.73 510.90,358.67 511.40,358.63 511.90,358.61 512.40,358.62 512.90,358.73 513.40,358.84 513.90,358.87 514.40,358.86 514.90,358.76 515.40,358.71 515.90,358.80 516.40,358.91 516.90,358.96 517.40,359.02 517.90,359.05 518.40,358.94 518.90,358.81 519.40,358.79 519.90,358.74 520.40,358.59 520.90,358.46 521.40,358.43 521.90,358.50 522.40,358.71 522.90,358.98 523.40,359.18 523.90,359.26 524.40,359.28 524.90,359.31 525.40,359.26 525.90,359.17 526.40,359.14 526.90,359.10 527.40,359.00 527.90,358.91 528.40,358.87 528.90,358.87 529.40,358.94 529.90,359.11 530.40,359.26 530.90,359.38 531.40,359.48 531.90,359.49 532.40,359.37 532.90,359.13 533.40,358.82 533.90,358.63 534.40,358.70 534.90,358.82 535.40,358.83 535.90,358.89 536.40,358.98 536.90,359.04 537.40,359.19 537.90,359.34 538.40,359.41 538.90,359.36 539.40,359.15 539.90,358.93 540.40,358.80 540.90,358.65 541.40,358.55 541.90,358.69 542.40,358.88 542.90,358.85 543.40,358.74 543.90,358.73 544.40,358.80 544.90,358.84 545.40,358.81 545.90,358.76 546.40,358.84 546.90,359.12 547.40,359.53 547.90,359.83 548.40,359.89 548.90,359.73 549.40,359.40 549.90,359.01 550.40,358.73 550.90,358.58 551.40,358.60 551.90,358.87 552.40,359.20 552.90,359.35 553.40,359.30 553.90,359.13 554.40,359.02 554.90,359.13 555.40,359.44 555.90,359.76 556.40,359.84 556.90,359.70 557.40,359.61 557.90,359.63 558.40,359.66 558.90,359.73 559.40,359.90 559.90,360.01 560.40,359.95 560.90,359.78 561.40,359.66 561.90,359.65 562.40,359.70 562.90,359.68 563.40,359.62 563.90,359.56 564.40,359.45 564.90,359.39 565.40,359.54 565.90,359.84 566.40,360.05 566.90,360.18 567.40,360.15 567.90,359.99 568.40,359.82 568.90,359.72 569.40,359.63 569.90,359.52 570.40,359.46 570.90,359.55 571.40,359.84 571.90,360.24 572.40,360.71 572.90,361.20 573.40,361.71 573.90,362.31 574.40,363.00 574.90,363.76 575.40,364.58 575.90,365.45 576.40,366.35 576.90,367.27 577.40,368.20 577.90,369.12 578.40,370.02 578.90,370.91 579.40,371.81 579.90,372.73 580.40,373.66 580.90,374.61 581.40,375.57 581.90,376.54 582.40,377.52 582.90,378.51 583.40,379.50 583.90,380.50 584.40,381.52 584.90,382.56 585.40,383.61 585.90,384.68 586.40,385.75 586.90,386.83 587.40,387.90 587.90,388.97 588.40,390.03 588.90,391.08 589.40,392.11 589.90,393.14 590.40,394.17 590.90,395.19 591.40,396.22 591.90,397.23 592.40,398.24 592.90,399.23 593.40,400.21 593.90,401.18 594.40,402.13 594.90,403.05 595.40,403.95 595.90,404.83 596.40,405.68 596.90,406.53 597.40,407.37 597.90,408.22 598.40,409.07 598.90,409.93 599.40,410.81 599.90,411.72 600.40,412.66 600.90,413.64 601.40,414.64 601.90,415.67 602.40,416.71 602.90,417.75 603.40,418.78 603.90,419.79 604.40,420.77 604.90,421.71 605.40,422.60 605.90,423.45 606.40,424.28 606.90,425.09 607.40,425.88 607.90,426.66 608.40,427.41 608.90,428.15 609.40,428.88 609.90,429.59 610.40,430.29 610.90,430.97 611.40,431.65 611.90,432.32 612.40,432.97 612.90,433.61 613.40,434.24 613.90,434.86 614.40,435.46 614.90,436.05 615.40,436.62 615.90,437.18 616.40,437.72 616.90,438.26 617.40,438.78 617.90,439.29 618.40,439.79 618.90,440.28 619.40,440.76 619.90,441.22 620.40,441.67 620.90,442.10 621.40,442.52 621.90,442.92 622.40,443.31 622.90,443.70 623.40,444.07 623.90,444.43 624.40,444.78 624.90,445.12 625.40,445.45 625.90,445.76 626.40,446.07 626.90,446.36 627.40,446.64 627.90,446.91 628.40,447.18 628.90,447.44 629.40,447.69 629.90,447.93 630.40,448.17 630.90,448.41 631.40,448.63 631.90,448.85 632.40,449.07 632.90,449.28 633.40,449.48 633.90,449.68 634.40,449.87 634.90,450.06 635.40,450.25 635.90,450.43 636.40,450.61 636.90,450.78 637.40,450.95 637.90,451.12 638.40,451.28 638.90,451.43 639.40,451.58 639.90,451.73 640.40,451.87 640.90,452.01 641.40,452.15 641.90,452.29 642.40,452.42 642.90,452.56 643.40,452.69 643.90,452.82 644.40,452.94 644.90,453.05 645.40,453.16 645.90,453.26 646.40,453.36 646.90,453.44 647.40,453.51 647.90,453.58 648.40,453.65 648.90,453.72 649.40,453.78 649.90,453.84 650.40,453.90 650.90,453.96 651.40,454.02 651.90,454.08 652.40,454.13 652.90,454.18 653.40,454.23 653.90,454.28 654.40,454.33 654.90,454.37 655.40,454.41 655.90,454.46 656.40,454.50 656.90,454.54 657.40,454.57 657.90,454.61 658.40,454.64 658.90,454.68 659.40,454.71 659.90,454.74 660.40,454.77 660.90,454.79 661.40,454.82 661.90,454.85 662.40,454.87 662.90,454.90 663.40,454.92 663.90,454.95 664.40,454.97 664.90,454.99 665.40,455.02 665.90,455.04 666.40,455.06 666.90,455.08 667.40,455.10 667.90,455.12 668.40,455.14 668.90,455.15 669.40,455.17 669.90,455.19 670.40,455.20 670.90,455.22 671.40,455.23 671.90,455.25 672.40,455.26 672.90,455.27 673.40,455.28 673.90,455.29 674.40,455.30 674.90,455.30 675.40,455.31 675.90,455.32 676.40,455.32 676.90,455.33 677.40,455.34 677.90,455.34 678.40,455.35 678.90,455.36 679.40,455.36 679.90,455.37 680.40,455.37 680.90,455.38 681.40,455.38 681.90,455.39 682.40,455.40 682.90,455.40 683.40,455.41 683.90,455.41 684.40,455.42 684.90,455.42 685.40,455.43 685.90,455.43 686.40,455.44 686.90,455.44 687.40,455.44 687.90,455.45 688.40,455.45 688.90,455.46 689.40,455.46 689.90,455.46 690.40,455.47 690.90,455.47 691.40,455.47 691.90,455.48 692.40,455.48 692.90,455.48 693.40,455.48 693.90,455.49 694.40,455.49 694.90,455.49 695.40,455.49 695.90,455.49 696.40,455.50 696.90,455.50 697.40,455.50 697.90,455.50 698.40,455.50 698.90,455.50 699.40,455.50 699.90,455.50 700.40,455.50 700.90,455.50 701.40,455.50 701.90,455.50 702.40,455.50 702.90,455.50 703.40,455.50 703.90,455.50 704.40,455.50 704.90,455.50 705.40,455.50 705.90,455.50 706.40,455.50 706.90,455.50 707.40,455.50 707.90,455.50 708.40,455.50 708.90,455.50 709.40,455.50 709.90,455.50 710.40,455.50 710.90,455.50 711.40,455.50 711.90,455.50 712.40,455.50 712.90,455.50 713.40,455.50 713.90,455.50 714.40,455.50 714.90,455.50 715.40,455.50 715.90,455.50 716.40,455.50 716.90,455.50 717.40,455.50 717.90,455.50 718.40,455.50 718.90,455.50 719.40,455.50 719.90,455.50 720.00,455.50" fill="none" stroke="#FFA500" stroke-width="3.6" stroke-linejoin="round" stroke-linecap="round"/>
<polyline points="154.00,455.40 168.50,455.40 168.60,380.00 169.50,312.30 170.00,318.84 170.50,325.38 171.00,331.99 171.50,339.01 172.00,345.60 172.50,350.79 173.00,355.00 173.50,358.69 174.00,362.19 174.50,365.75 175.00,369.29 175.50,372.60 176.00,375.50 176.50,378.05 177.00,380.34 177.50,382.20 178.00,383.60 178.50,384.80 179.00,385.80 179.50,386.60 180.00,387.27 180.50,387.76 181.00,388.16 181.50,388.40 182.00,388.56 182.50,388.73 183.00,388.97 183.50,389.21 184.00,389.38 184.50,389.58 185.00,389.78 185.50,389.87 186.00,389.96 186.50,390.04 187.00,390.01 187.50,390.02 188.00,390.31 188.50,390.62 189.00,390.75 189.50,391.05 190.00,391.46 190.50,391.99 191.00,392.52 191.50,392.55 192.00,392.34 192.50,392.45 193.00,392.71 193.50,392.80 194.00,392.79 194.50,392.75 195.00,392.71 195.50,392.43 196.00,391.89 196.50,391.43 197.00,391.13 197.50,390.84 198.00,390.59 198.50,390.62 199.00,390.96 199.50,391.22 200.00,390.99 200.50,390.43 201.00,390.13 201.50,390.00 202.00,389.87 202.50,390.10 203.00,390.71 203.50,391.22 204.00,391.25 204.50,391.03 205.00,390.99 205.50,391.29 206.00,391.53 206.50,391.43 207.00,391.30 207.50,391.29 208.00,391.21 208.50,391.01 209.00,390.95 209.50,391.19 210.00,391.66 210.50,392.11 211.00,392.28 211.50,392.23 212.00,392.18 212.50,392.17 213.00,392.14 213.50,391.91 214.00,391.46 214.50,390.98 215.00,390.58 215.50,390.24 216.00,390.27 216.50,390.80 217.00,391.55 217.50,392.34 218.00,392.70 218.50,392.42 219.00,392.17 219.50,392.25 220.00,392.30 220.50,392.19 221.00,392.15 221.50,392.14 222.00,391.89 222.50,391.53 223.00,391.38 223.50,391.32 224.00,391.31 224.50,391.46 225.00,391.78 225.50,392.13 226.00,392.25 226.50,392.08 227.00,391.77 227.50,391.38 228.00,391.02 228.50,390.96 229.00,390.97 229.50,390.83 230.00,390.69 230.50,390.57 231.00,390.52 231.50,390.50 232.00,390.40 232.50,390.15 233.00,390.08 233.50,390.42 234.00,390.58 234.50,390.27 235.00,389.91 235.50,389.80 236.00,389.98 236.50,390.25 237.00,390.32 237.50,390.25 238.00,390.20 238.50,390.32 239.00,390.77 239.50,391.40 240.00,391.82 240.50,391.92 241.00,391.73 241.50,391.48 242.00,391.38 242.50,391.43 243.00,391.50 243.50,391.46 244.00,391.32 244.50,391.34 245.00,391.76 245.50,392.13 246.00,392.02 246.50,391.88 247.00,392.05 247.50,391.98 248.00,391.50 248.50,391.06 249.00,390.81 249.50,390.80 250.00,391.04 250.50,391.11 251.00,390.88 251.50,390.66 252.00,390.51 252.50,390.31 253.00,390.03 253.50,389.88 254.00,390.13 254.50,390.55 255.00,390.69 255.50,390.62 256.00,390.47 256.50,390.33 257.00,390.37 257.50,390.54 258.00,390.66 258.50,390.90 259.00,391.41 259.50,391.94 260.00,392.13 260.50,391.92 261.00,391.61 261.50,391.68 262.00,392.15 262.50,392.48 263.00,392.54 263.50,392.67 264.00,392.89 264.50,392.98 265.00,392.86 265.50,392.67 266.00,392.49 266.50,392.35 267.00,392.48 267.50,392.81 268.00,393.16 268.50,393.28 269.00,392.77 269.50,391.90 270.00,391.48 270.50,391.56 271.00,391.64 271.50,391.65 272.00,391.40 272.50,390.90 273.00,390.82 273.50,391.34 274.00,391.83 274.50,391.97 275.00,391.85 275.50,391.59 276.00,391.44 276.50,391.42 277.00,391.33 277.50,391.34 278.00,391.57 278.50,391.61 279.00,391.30 279.50,390.82 280.00,390.48 280.50,390.44 281.00,390.68 281.50,391.07 282.00,391.50 282.50,392.06 283.00,392.62 283.50,392.80 284.00,392.61 284.50,392.49 285.00,392.31 285.50,391.91 286.00,391.61 286.50,391.73 287.00,391.98 287.50,391.99 288.00,391.88 288.50,391.84 289.00,391.66 289.50,391.00 290.00,390.19 290.50,389.62 291.00,389.27 291.50,389.46 292.00,390.44 292.50,391.39 293.00,391.58 293.50,391.47 294.00,391.75 294.50,392.25 295.00,392.41 295.50,392.28 296.00,392.20 296.50,392.28 297.00,392.39 297.50,392.29 298.00,391.95 298.50,391.68 299.00,391.65 299.50,391.70 300.00,391.60 300.50,391.37 301.00,391.24 301.50,391.27 302.00,391.54 302.50,391.98 303.00,392.01 303.50,391.61 304.00,391.14 304.50,390.55 305.00,390.12 305.50,390.28 306.00,390.59 306.50,390.63 307.00,390.58 307.50,390.79 308.00,391.24 308.50,391.59 309.00,391.67 309.50,391.65 310.00,391.52 310.50,391.11 311.00,390.74 311.50,390.95 312.00,391.65 312.50,392.16 313.00,392.22 313.50,392.03 314.00,391.80 314.50,391.63 315.00,391.58 315.50,391.76 316.00,392.20 316.50,392.58 317.00,392.52 317.50,392.15 318.00,391.92 318.50,392.09 319.00,392.35 319.50,392.18 320.00,391.58 320.50,390.97 321.00,390.67 321.50,390.78 322.00,390.94 322.50,390.88 323.00,390.85 323.50,390.93 324.00,390.96 324.50,390.97 325.00,391.22 325.50,391.66 326.00,392.03 326.50,392.30 327.00,392.62 327.50,392.72 328.00,392.44 328.50,392.20 329.00,392.21 329.50,392.26 330.00,392.43 330.50,392.88 331.00,393.08 331.50,392.65 332.00,392.03 332.50,391.64 333.00,391.42 333.50,391.23 334.00,391.30 334.50,391.53 335.00,391.67 335.50,391.84 336.00,391.88 336.50,391.73 337.00,391.68 337.50,391.59 338.00,391.13 338.50,390.63 339.00,390.63 339.50,391.18 340.00,391.66 340.50,391.47 341.00,390.89 341.50,390.60 342.00,390.80 342.50,391.16 343.00,391.46 343.50,391.71 344.00,391.88 344.50,391.98 345.00,392.13 345.50,392.33 346.00,392.61 346.50,393.02 347.00,393.27 347.50,393.01 348.00,392.42 348.50,391.99 349.00,391.77 349.50,391.62 350.00,391.84 350.50,392.31 351.00,392.33 351.50,391.76 352.00,391.18 352.50,391.08 353.00,391.40 353.50,391.89 354.00,391.99 354.50,391.38 355.00,390.60 355.50,390.29 356.00,390.42 356.50,390.57 357.00,390.65 357.50,390.83 358.00,391.19 358.50,391.68 359.00,391.93 359.50,391.71 360.00,391.35 360.50,391.18 361.00,391.11 361.50,391.06 362.00,391.01 362.50,391.05 363.00,391.44 363.50,392.04 364.00,392.40 364.50,392.43 365.00,392.06 365.50,391.47 366.00,391.23 366.50,391.36 367.00,391.45 367.50,391.46 368.00,391.40 368.50,391.06 369.00,390.63 369.50,390.61 370.00,390.78 370.50,390.63 371.00,390.48 371.50,390.77 372.00,391.07 372.50,390.96 373.00,390.57 373.50,390.40 374.00,390.81 374.50,391.47 375.00,391.79 375.50,391.74 376.00,391.47 376.50,391.15 377.00,391.07 377.50,391.37 378.00,391.72 378.50,391.91 379.00,392.08 379.50,392.00 380.00,391.72 380.50,391.61 381.00,391.68 381.50,391.66 382.00,391.46 382.50,391.20 383.00,390.94 383.50,390.72 384.00,390.77 384.50,391.13 385.00,391.35 385.50,391.34 386.00,391.43 386.50,391.66 387.00,392.03 387.50,392.49 388.00,392.81 388.50,392.85 389.00,392.64 389.50,392.36 390.00,392.13 390.50,392.03 391.00,392.13 391.50,392.23 392.00,392.18 392.50,391.96 393.00,391.79 393.50,391.94 394.00,392.23 394.50,392.26 395.00,391.98 395.50,391.69 396.00,391.58 396.50,391.54 397.00,391.30 397.50,391.21 398.00,391.49 398.50,391.56 399.00,391.14 399.50,390.80 400.00,390.78 400.50,390.95 401.00,391.12 401.50,391.19 402.00,391.35 402.50,391.64 403.00,391.82 403.50,391.82 404.00,391.62 404.50,391.52 405.00,391.93 405.50,392.57 406.00,392.80 406.50,392.73 407.00,392.69 407.50,392.76 408.00,392.88 408.50,392.67 409.00,391.91 409.50,391.20 410.00,391.03 410.50,391.37 411.00,391.88 411.50,391.97 412.00,391.66 412.50,391.60 413.00,391.98 413.50,392.19 414.00,392.11 414.50,392.29 415.00,392.62 415.50,392.70 416.00,392.39 416.50,391.92 417.00,391.62 417.50,391.76 418.00,392.04 418.50,391.80 419.00,391.03 419.50,390.27 420.00,390.02 420.50,390.33 421.00,390.79 421.50,391.04 422.00,391.04 422.50,391.05 423.00,391.30 423.50,391.77 424.00,392.19 424.50,392.12 425.00,391.53 425.50,391.01 426.00,390.84 426.50,390.85 427.00,390.96 427.50,391.17 428.00,391.45 428.50,391.77 429.00,391.89 429.50,391.72 430.00,391.33 430.50,390.91 431.00,390.71 431.50,390.80 432.00,391.04 432.50,391.25 433.00,391.26 433.50,391.16 434.00,391.11 434.50,391.03 435.00,390.94 435.50,390.76 436.00,390.65 436.50,390.84 437.00,391.06 437.50,391.05 438.00,390.97 438.50,390.96 439.00,391.06 439.50,391.27 440.00,391.44 440.50,391.45 441.00,391.42 441.50,391.51 442.00,391.55 442.50,391.46 443.00,391.36 443.50,391.25 444.00,391.23 444.50,391.51 445.00,391.85 445.50,391.99 446.00,391.93 446.50,391.87 447.00,392.06 447.50,392.38 448.00,392.48 448.50,392.29 449.00,392.24 449.50,392.61 450.00,392.93 450.50,392.68 451.00,391.99 451.50,391.42 452.00,391.13 452.50,390.66 453.00,390.18 453.50,390.03 454.00,389.97 454.50,390.09 455.00,390.61 455.50,391.17 456.00,391.51 456.50,391.94 457.00,392.44 457.50,392.50 458.00,392.07 458.50,391.61 459.00,391.48 459.50,391.79 460.00,392.29 460.50,392.65 461.00,392.79 461.50,392.78 462.00,392.71 462.50,392.88 463.00,393.27 463.50,393.53 464.00,393.49 464.50,393.13 465.00,392.64 465.50,392.07 466.00,391.46 466.50,391.19 467.00,391.31 467.50,391.33 468.00,391.03 468.50,390.75 469.00,390.80 469.50,390.95 470.00,390.96 470.50,391.14 471.00,391.74 471.50,392.24 472.00,392.16 472.50,391.77 473.00,391.41 473.50,390.92 474.00,390.53 474.50,390.82 475.00,391.56 475.50,392.24 476.00,392.63 476.50,392.64 477.00,392.42 477.50,392.25 478.00,392.11 478.50,391.99 479.00,392.19 479.50,392.63 480.00,392.78 480.50,392.47 481.00,392.22 481.50,392.29 482.00,392.42 482.50,392.35 483.00,392.08 483.50,391.72 484.00,391.65 484.50,391.96 485.00,392.30 485.50,392.20 486.00,391.80 486.50,391.69 487.00,391.80 487.50,391.74 488.00,391.80 488.50,392.13 489.00,392.26 489.50,392.04 490.00,391.80 490.50,391.68 491.00,391.51 491.50,391.13 492.00,390.58 492.50,390.23 493.00,390.21 493.50,390.36 494.00,390.55 494.50,390.60 495.00,390.59 495.50,390.77 496.00,391.07 496.50,391.20 497.00,391.17 497.50,391.45 498.00,392.17 498.50,392.76 499.00,392.73 499.50,392.36 500.00,392.23 500.50,392.19 501.00,391.89 501.50,391.63 502.00,391.66 502.50,391.59 503.00,391.17 503.50,390.86 504.00,391.09 504.50,391.57 505.00,391.91 505.50,392.22 506.00,392.60 506.50,392.83 507.00,392.83 507.50,392.67 508.00,392.38 508.50,392.16 509.00,392.16 509.50,392.17 510.00,391.84 510.50,391.36 511.00,391.14 511.50,391.10 512.00,390.90 512.50,390.58 513.00,390.75 513.50,391.65 514.00,392.60 514.50,392.94 515.00,392.98 515.50,393.20 516.00,393.21 516.50,392.76 517.00,392.39 517.50,392.35 518.00,392.31 518.50,392.27 519.00,392.58 519.50,393.22 520.00,393.57 520.50,393.34 521.00,392.76 521.50,392.35 522.00,392.41 522.50,392.62 523.00,392.72 523.50,392.55 524.00,392.11 524.50,391.81 525.00,391.81 525.50,391.80 526.00,391.68 526.50,391.50 527.00,391.32 527.50,391.46 528.00,392.06 528.50,392.67 529.00,393.01 529.50,392.84 530.00,392.04 530.50,391.18 531.00,390.84 531.50,390.90 532.00,391.05 532.50,391.01 533.00,390.88 533.50,390.88 534.00,390.99 534.50,391.16 535.00,391.22 535.50,391.12 536.00,390.94 536.50,390.70 537.00,390.52 537.50,390.74 538.00,391.61 538.50,392.68 539.00,393.22 539.50,393.09 540.00,392.67 540.50,392.42 541.00,392.40 541.50,392.24 542.00,391.99 542.50,391.84 543.00,391.78 543.50,391.70 544.00,391.63 544.50,391.78 545.00,392.35 545.50,392.87 546.00,392.82 546.50,392.57 547.00,392.43 547.50,392.12 548.00,391.72 548.50,391.66 549.00,391.84 549.50,391.93 550.00,391.95 550.50,391.86 551.00,391.55 551.50,391.34 552.00,391.37 552.50,391.28 553.00,391.00 553.50,391.10 554.00,391.75 554.50,392.55 555.00,393.09 555.50,393.14 556.00,392.95 556.50,392.88 557.00,392.80 557.50,392.59 558.00,392.21 558.50,391.52 559.00,390.86 559.50,390.49 560.00,390.30 560.50,390.33 561.00,390.56 561.50,390.76 562.00,390.65 562.50,390.14 563.00,389.70 563.50,389.75 564.00,390.14 564.50,390.69 565.00,391.18 565.50,391.34 566.00,391.51 566.50,391.88 567.00,392.06 567.50,392.00 568.00,391.89 568.50,391.80 569.00,391.76 569.50,391.78 570.00,391.89 570.50,392.18 571.00,392.64 571.50,393.23 572.00,393.93 572.50,394.71 573.00,395.53 573.50,396.46 574.00,397.63 574.50,399.04 575.00,400.69 575.50,402.57 576.00,404.71 576.50,407.54 577.00,410.98 577.50,414.85 578.00,419.06 578.50,424.11 579.00,429.60 579.50,435.66 580.00,442.23 580.50,446.90 581.00,449.63 581.50,451.92 582.00,453.54 582.50,454.30 583.00,454.54 583.50,454.75 584.00,454.91 584.50,455.05 585.00,455.16 585.50,455.23 586.00,455.28 586.50,455.30 587.00,455.31 587.50,455.32 588.00,455.32 588.50,455.33 589.00,455.34 589.50,455.34 590.00,455.35 590.50,455.36 591.00,455.36 591.50,455.37 592.00,455.37 592.50,455.38 593.00,455.39 593.50,455.39 594.00,455.40 594.50,455.40 595.00,455.41 595.50,455.41 596.00,455.41 596.50,455.42 597.00,455.42 597.50,455.43 598.00,455.43 598.50,455.44 599.00,455.44 599.50,455.44 600.00,455.45 600.50,455.45 601.00,455.45 601.50,455.46 602.00,455.46 602.50,455.46 603.00,455.46 603.50,455.47 604.00,455.47 604.50,455.47 605.00,455.47 605.50,455.48 606.00,455.48 606.50,455.48 607.00,455.48 607.50,455.48 608.00,455.48 608.50,455.49 609.00,455.49 609.50,455.49 610.00,455.49 610.50,455.49 611.00,455.49 611.50,455.49 612.00,455.49 612.50,455.49 613.00,455.50 613.50,455.50 614.00,455.50 614.50,455.50 615.00,455.50 615.50,455.50 616.00,455.50 616.50,455.50 617.00,455.50 617.50,455.50 618.00,455.50 618.50,455.50 619.00,455.50 619.50,455.50 620.00,455.50 620.50,455.50 621.00,455.50 621.50,455.50 622.00,455.50 622.50,455.50 623.00,455.50 623.50,455.50 624.00,455.50 624.50,455.50 625.00,455.50 625.50,455.50 626.00,455.50 626.50,455.50 627.00,455.50 627.50,455.50 628.00,455.50 628.50,455.50 629.00,455.50 629.50,455.50 630.00,455.50 630.50,455.50 631.00,455.50 631.50,455.50 632.00,455.50 632.50,455.50 633.00,455.50 633.50,455.50 634.00,455.50 634.50,455.50 635.00,455.50 635.50,455.50 636.00,455.50 636.50,455.50 637.00,455.50 637.50,455.50 638.00,455.50 638.50,455.50 639.00,455.50 639.50,455.50 640.00,455.50 640.50,455.50 641.00,455.50 641.50,455.50 642.00,455.50 642.50,455.50 643.00,455.50 643.50,455.50 644.00,455.50 644.50,455.50 645.00,455.50 645.50,455.50 646.00,455.50 646.50,455.50 647.00,455.50 647.50,455.50 648.00,455.50 648.50,455.50 649.00,455.50 649.50,455.50 650.00,455.50 650.50,455.50 651.00,455.50 651.50,455.50 652.00,455.50 652.50,455.50 653.00,455.50 653.50,455.50 654.00,455.50 654.50,455.50 655.00,455.50 655.50,455.50 656.00,455.50 656.50,455.50 657.00,455.50 657.50,455.50 658.00,455.50 658.50,455.50 659.00,455.50 659.50,455.50 660.00,455.50 660.50,455.50 661.00,455.50 661.50,455.50 662.00,455.50 662.50,455.50 663.00,455.50 663.50,455.50 664.00,455.50 664.50,455.50 665.00,455.50 665.50,455.50 666.00,455.50 666.50,455.50 667.00,455.50 667.50,455.50 668.00,455.50 668.50,455.50 669.00,455.50 669.50,455.50 670.00,455.50 670.50,455.50 671.00,455.50 671.50,455.50 672.00,455.50 672.50,455.50 673.00,455.50 673.50,455.50 674.00,455.50 674.50,455.50 675.00,455.50 675.50,455.50 676.00,455.50 676.50,455.50 677.00,455.50 677.50,455.50 678.00,455.50 678.50,455.50 679.00,455.50 679.50,455.50 680.00,455.50 680.50,455.50 681.00,455.50 681.50,455.50 682.00,455.50 682.50,455.50 683.00,455.50 683.50,455.50 684.00,455.50 684.50,455.50 685.00,455.50 685.50,455.50 686.00,455.50 686.50,455.50 687.00,455.50 687.50,455.50 688.00,455.50 688.50,455.50 689.00,455.50 689.50,455.50 690.00,455.50 690.50,455.50 691.00,455.50 691.50,455.50 692.00,455.50 692.50,455.50 693.00,455.50 693.50,455.50 694.00,455.50 694.50,455.50 695.00,455.50 695.50,455.50 696.00,455.50 696.50,455.50 697.00,455.50 697.50,455.50 698.00,455.50 698.50,455.50 699.00,455.50 699.50,455.50 700.00,455.50 700.50,455.50 701.00,455.50 701.50,455.50 702.00,455.50 702.50,455.50 703.00,455.50 703.50,455.50 704.00,455.50 704.50,455.50 705.00,455.50 705.50,455.50 706.00,455.50 706.50,455.50 707.00,455.50 707.50,455.50 708.00,455.50 708.50,455.50 709.00,455.50 709.50,455.50 710.00,455.50 710.50,455.50 711.00,455.50 711.50,455.50 712.00,455.50 712.50,455.50 713.00,455.50 713.50,455.50 714.00,455.50 714.50,455.50 715.00,455.50 715.50,455.50 716.00,455.50 716.50,455.50 717.00,455.50 717.50,455.50 718.00,455.50 718.50,455.50 719.00,455.50 719.50,455.50 720.00,455.50 720.50,455.50 721.00,455.50 721.50,455.50 722.00,455.50 722.50,455.50 723.00,455.50 723.50,455.50 724.00,455.50 724.50,455.50 725.00,455.50 725.50,455.50 726.00,455.50 726.50,455.50 727.00,455.50 727.50,455.50 728.00,455.50 728.50,455.50 729.00,455.50 729.50,455.50 730.00,455.50 730.50,455.50 731.00,455.50 731.50,455.50 732.00,455.50 732.50,455.50 733.00,455.50 733.50,455.50 734.00,455.50 734.50,455.50 735.00,455.50 735.50,455.50 736.00,455.50 736.50,455.50 737.00,455.50 737.50,455.50 738.00,455.50 738.50,455.50 739.00,455.50 739.50,455.50 740.00,455.50 740.50,455.50 741.00,455.50 741.50,455.50 742.00,455.50 742.50,455.50 743.00,455.50 743.50,455.50 744.00,455.50 744.50,455.50 745.00,455.50 745.50,455.50 746.00,455.50 746.50,455.50 747.00,455.50 747.50,455.50 748.00,455.50 748.50,455.50 749.00,455.50 749.50,455.50 750.00,455.50 750.50,455.50 751.00,455.50 751.50,455.50 752.00,455.50 752.50,455.50 753.00,455.50 753.50,455.50 754.00,455.50 754.50,455.50 755.00,455.50 755.50,455.50 756.00,455.50 756.50,455.50 757.00,455.50 757.50,455.50 758.00,455.50 758.50,455.50 759.00,455.50 759.50,455.50 760.00,455.50 760.50,455.50 761.00,455.50 761.50,455.50 762.00,455.50 762.50,455.50 763.00,455.50 763.50,455.50 764.00,455.50 764.50,455.50 765.00,455.50 765.50,455.50 766.00,455.50 766.50,455.50 767.00,455.50 767.50,455.50 768.00,455.50 768.50,455.50 769.00,455.50 769.50,455.50 770.00,455.50 770.50,455.50 771.00,455.50 771.50,455.50 772.00,455.50 772.50,455.50 773.00,455.50 773.50,455.50 774.00,455.50 774.50,455.50 775.00,455.50 775.50,455.50 776.00,455.50 776.50,455.50 777.00,455.50 777.50,455.50 778.00,455.50 778.50,455.50 779.00,455.50 779.50,455.50 780.00,455.50 780.50,455.50 781.00,455.50 781.50,455.50 782.00,455.50 782.50,455.50 783.00,455.50 783.50,455.50 784.00,455.50 784.50,455.50 785.00,455.50 785.50,455.50 786.00,455.50 786.50,455.50 787.00,455.50 787.50,455.50 788.00,455.50 788.50,455.50 789.00,455.50 789.50,455.50 790.00,455.50 790.50,455.50 791.00,455.50 791.50,455.50 792.00,455.50 792.50,455.50 793.00,455.50 793.50,455.50 794.00,455.50 794.50,455.50 795.00,455.50 795.50,455.50 796.00,455.50 796.50,455.50 797.00,455.50 797.50,455.50 798.00,455.50 798.50,455.50 799.00,455.50 799.50,455.50 800.00,455.50 800.50,455.50 801.00,455.50 801.50,455.50 802.00,455.50 802.50,455.50 803.00,455.50 803.50,455.50 804.00,455.50 804.50,455.50 805.00,455.50 805.50,455.50 806.00,455.50 806.50,455.50 807.00,455.50 807.50,455.50 808.00,455.50 808.50,455.50 809.00,455.50 809.50,455.50 810.00,455.50 810.50,455.50 811.00,455.50 811.50,455.50 812.00,455.50 812.50,455.50 813.00,455.50 813.50,455.50 814.00,455.50 814.50,455.50 815.00,455.50 815.50,455.50 816.00,455.50 816.50,455.50 817.00,455.50 817.50,455.50 818.00,455.50 818.50,455.50 819.00,455.50 819.50,455.50 820.00,455.50 820.50,455.50 821.00,455.50 821.50,455.50 822.00,455.50 822.50,455.50 823.00,455.50 823.50,455.50 824.00,455.50 824.50,455.50 825.00,455.50 825.50,455.50 826.00,455.50 826.50,455.50 827.00,455.50 827.50,455.50 828.00,455.50 828.50,455.50 829.00,455.50 829.50,455.50 830.00,455.50 830.50,455.50 831.00,455.50 831.50,455.50 832.00,455.50 832.50,455.50 833.00,455.50 833.50,455.50 834.00,455.50 834.50,455.50 835.00,455.50 835.50,455.50 836.00,455.50 836.50,455.50 837.00,455.50 837.50,455.50 838.00,455.50 838.50,455.50 839.00,455.50 839.50,455.50 840.00,455.50 840.50,455.50 841.00,455.50 841.50,455.50 842.00,455.50 842.50,455.50 843.00,455.50 843.50,455.50 844.00,455.50 844.50,455.50 845.00,455.50 845.50,455.50 846.00,455.50 846.50,455.50 847.00,455.50 847.50,455.50 848.00,455.50 848.50,455.50 849.00,455.50 849.50,455.50 850.00,455.50 850.50,455.50 851.00,455.50 851.50,455.50 852.00,455.50 852.50,455.50 853.00,455.50 853.50,455.50 854.00,455.50 854.50,455.50 855.00,455.50 855.50,455.50 856.00,455.50 856.50,455.50 857.00,455.50 857.50,455.50 858.00,455.50 858.50,455.50 859.00,455.50 859.50,455.50 860.00,455.50 860.50,455.50 861.00,455.50 861.50,455.50 862.00,455.50 862.50,455.50 863.00,455.50 863.50,455.50 864.00,455.50 864.50,455.50 865.00,455.50 865.50,455.50 866.00,455.50 866.50,455.50 867.00,455.50 867.50,455.50 868.00,455.50 868.50,455.50 869.00,455.50 869.50,455.50 870.00,455.50 870.50,455.50 871.00,455.50 871.50,455.50 872.00,455.50 872.50,455.50 873.00,455.50 873.50,455.50 874.00,455.50 874.50,455.50 875.00,455.50 875.50,455.50 876.00,455.50 876.50,455.50 877.00,455.50 877.50,455.50 878.00,455.50 878.50,455.50 879.00,455.50 879.50,455.50 880.00,455.50 880.50,455.50 881.00,455.50 881.50,455.50 882.00,455.50 882.50,455.50 883.00,455.50 883.50,455.50 884.00,455.50 884.50,455.50 885.00,455.50 885.50,455.50 886.00,455.50 886.50,455.50 887.00,455.50 887.50,455.50 888.00,455.50 888.50,455.50 889.00,455.50 889.50,455.50 890.00,455.50 890.50,455.50 891.00,455.50 891.50,455.50 892.00,455.50 892.50,455.50 893.00,455.50 893.50,455.50 894.00,455.50 894.50,455.50 895.00,455.50 895.50,455.50 896.00,455.50 896.50,455.50 897.00,455.50 897.50,455.50 898.00,455.50 898.50,455.50 899.00,455.50 899.50,455.50 900.00,455.50 900.50,455.50 901.00,455.50 901.50,455.50 902.00,455.50 902.50,455.50 903.00,455.50 903.50,455.50 904.00,455.50 904.50,455.50 905.00,455.50 905.50,455.50 906.00,455.50 906.50,455.50 907.00,455.50 907.50,455.50 908.00,455.50 908.50,455.50 909.00,455.50 909.50,455.50 910.00,455.50 910.50,455.50 911.00,455.50 911.50,455.50 912.00,455.50 912.50,455.50 913.00,455.50 913.50,455.50 914.00,455.50 914.50,455.50 915.00,455.50 915.50,455.50 916.00,455.50 916.50,455.50 917.00,455.50 917.50,455.50 918.00,455.50 918.50,455.50 919.00,455.50 919.50,455.50 920.00,455.50 920.50,455.50 921.00,455.50 921.50,455.50 922.00,455.50 922.50,455.50 923.00,455.50 923.50,455.50 924.00,455.50 924.50,455.50 925.00,455.50 925.50,455.50 926.00,455.50 926.50,455.50 927.00,455.50 927.50,455.50 928.00,455.50 928.50,455.50 929.00,455.50 929.50,455.50 930.00,455.50 930.50,455.50 931.00,455.50 931.50,455.50 932.00,455.50 932.50,455.50 933.00,455.50 933.50,455.50 934.00,455.50 934.50,455.50 935.00,455.50 935.50,455.50 936.00,455.50 936.50,455.50 937.00,455.50 937.50,455.50 938.00,455.50 938.50,455.50 939.00,455.50 939.50,455.50 940.00,455.50 940.50,455.50 941.00,455.50 941.50,455.50 942.00,455.50 942.50,455.50 943.00,455.50 943.50,455.50 944.00,455.50 944.50,455.50 945.00,455.50 945.50,455.50 946.00,455.50 946.50,455.50 947.00,455.50 947.50,455.50 948.00,455.50 948.50,455.50 949.00,455.50 949.50,455.50 950.00,455.50 950.50,455.50 951.00,455.50 951.50,455.50 952.00,455.50 952.50,455.50 953.00,455.50 953.50,455.50 954.00,455.50 954.50,455.50 955.00,455.50 955.50,455.50 956.00,455.50 956.50,455.50 957.00,455.50 957.50,455.50 958.00,455.50 958.50,455.50 959.00,455.50 959.50,455.50 960.00,455.50 960.50,455.50 961.00,455.50 961.50,455.50 962.00,455.50 962.50,455.50 963.00,455.50 963.50,455.50 964.00,455.50 964.50,455.50 965.00,455.50 965.50,455.50 966.00,455.50 966.50,455.50 967.00,455.50 967.50,455.50 968.00,455.50 968.50,455.50 969.00,455.50 969.50,455.50 970.00,455.50 970.50,455.50 971.00,455.50 971.50,455.50 972.00,455.50 972.50,455.50 973.00,455.50 973.50,455.50 974.00,455.50 974.50,455.50 975.00,455.50 975.50,455.50 976.00,455.50 976.50,455.50 977.00,455.50 977.50,455.50 978.00,455.50 978.50,455.50 979.00,455.50 979.50,455.50 980.00,455.50 980.50,455.50 981.00,455.50 981.50,455.50 982.00,455.50 982.50,455.50 983.00,455.50 983.50,455.50 984.00,455.50 984.50,455.50 985.00,455.50 985.50,455.50 986.00,455.50 986.50,455.50 987.00,455.50 987.10,455.50" fill="none" stroke="#008B00" stroke-width="3.6" stroke-linejoin="round" stroke-linecap="round"/>
<polyline points="153.80,690.80 167.80,690.90 168.30,685.80 168.80,675.70 169.30,669.04 169.80,665.00 170.30,661.94 170.80,659.46 171.30,657.32 171.80,655.56 172.30,653.92 172.80,652.20 173.30,650.52 173.80,648.76 174.30,646.77 174.80,644.56 175.30,642.22 175.80,639.86 176.30,637.57 176.80,635.29 177.30,632.93 177.80,630.37 178.30,627.63 178.80,624.50 179.30,620.52 179.80,616.13 180.30,612.20 180.80,608.51 181.30,605.02 181.80,601.74 182.30,598.53 182.80,595.51 183.30,592.84 183.80,590.63 184.30,588.76 184.80,587.06 185.30,585.36 185.80,583.55 186.30,581.73 186.80,579.92 187.30,578.15 187.80,576.38 188.30,574.60 188.80,572.91 189.30,571.40 189.80,570.06 190.30,568.80 190.80,567.65 191.30,566.57 191.80,565.58 192.30,564.71 192.80,563.94 193.30,563.21 193.80,562.58 194.30,562.03 194.80,561.51 195.30,560.94 195.80,560.40 196.30,559.94 196.80,559.42 197.30,558.81 197.80,558.22 198.30,557.71 198.80,557.19 199.30,556.61 199.80,556.09 200.30,555.69 200.80,555.37 201.30,555.09 201.80,554.93 202.30,554.85 202.80,554.67 203.30,554.39 203.80,554.10 204.30,553.86 204.80,553.75 205.30,553.82 205.80,553.90 206.30,553.85 206.80,553.78 207.30,553.76 207.80,553.76 208.30,553.73 208.80,553.64 209.30,553.47 209.80,553.31 210.30,553.35 210.80,553.69 211.30,554.05 211.80,554.20 212.30,554.20 212.80,554.26 213.30,554.36 213.80,554.48 214.30,554.65 214.80,554.88 215.30,555.13 215.80,555.35 216.30,555.54 216.80,555.76 217.30,555.97 217.80,556.10 218.30,556.25 218.80,556.45 219.30,556.63 219.80,556.79 220.30,556.90 220.80,557.00 221.30,557.28 221.80,557.79 222.30,558.39 222.80,558.96 223.30,559.37 223.80,559.63 224.30,559.96 224.80,560.32 225.30,560.63 225.80,560.96 226.30,561.45 226.80,562.08 227.30,562.71 227.80,563.15 228.30,563.39 228.80,563.68 229.30,564.04 229.80,564.28 230.30,564.51 230.80,564.84 231.30,565.20 231.80,565.48 232.30,565.75 232.80,566.16 233.30,566.65 233.80,566.95 234.30,567.05 234.80,567.13 235.30,567.31 235.80,567.52 236.30,567.67 236.80,567.80 237.30,567.96 237.80,568.16 238.30,568.42 238.80,568.65 239.30,568.85 239.80,569.08 240.30,569.31 240.80,569.50 241.30,569.74 241.80,570.11 242.30,570.51 242.80,570.80 243.30,570.95 243.80,571.14 244.30,571.50 244.80,571.86 245.30,572.02 245.80,572.05 246.30,572.18 246.80,572.38 247.30,572.57 247.80,572.79 248.30,573.09 248.80,573.46 249.30,573.98 249.80,574.52 250.30,574.81 250.80,574.89 251.30,574.99 251.80,575.20 252.30,575.51 252.80,575.94 253.30,576.41 253.80,576.88 254.30,577.32 254.80,577.70 255.30,578.10 255.80,578.53 256.30,578.85 256.80,579.13 257.30,579.43 257.80,579.58 258.30,579.62 258.80,579.71 259.30,579.88 259.80,580.23 260.30,580.70 260.80,580.94 261.30,580.97 261.80,581.04 262.30,581.27 262.80,581.60 263.30,581.88 263.80,582.14 264.30,582.39 264.80,582.56 265.30,582.73 265.80,582.93 266.30,583.14 266.80,583.34 267.30,583.54 267.80,583.75 268.30,583.92 268.80,584.01 269.30,584.16 269.80,584.40 270.30,584.60 270.80,584.69 271.30,584.68 271.80,584.74 272.30,584.94 272.80,585.16 273.30,585.26 273.80,585.27 274.30,585.31 274.80,585.50 275.30,585.72 275.80,585.84 276.30,585.95 276.80,586.22 277.30,586.58 277.80,586.96 278.30,587.26 278.80,587.49 279.30,587.57 279.80,587.54 280.30,587.56 280.80,587.66 281.30,587.76 281.80,587.88 282.30,588.06 282.80,588.17 283.30,588.22 283.80,588.41 284.30,588.83 284.80,589.26 285.30,589.49 285.80,589.63 286.30,589.80 286.80,590.06 287.30,590.31 287.80,590.50 288.30,590.72 288.80,590.92 289.30,591.09 289.80,591.27 290.30,591.51 290.80,591.84 291.30,592.18 291.80,592.42 292.30,592.57 292.80,592.57 293.30,592.56 293.80,592.80 294.30,593.13 294.80,593.26 295.30,593.25 295.80,593.25 296.30,593.27 296.80,593.41 297.30,593.70 297.80,594.05 298.30,594.32 298.80,594.39 299.30,594.29 299.80,594.13 300.30,594.14 300.80,594.37 301.30,594.53 301.80,594.45 302.30,594.46 302.80,594.68 303.30,594.84 303.80,594.82 304.30,594.86 304.80,595.10 305.30,595.43 305.80,595.62 306.30,595.64 306.80,595.64 307.30,595.67 307.80,595.71 308.30,595.71 308.80,595.73 309.30,595.85 309.80,596.05 310.30,596.24 310.80,596.34 311.30,596.44 311.80,596.71 312.30,597.00 312.80,597.10 313.30,596.98 313.80,596.91 314.30,597.08 314.80,597.34 315.30,597.44 315.80,597.45 316.30,597.51 316.80,597.60 317.30,597.62 317.80,597.67 318.30,597.93 318.80,598.29 319.30,598.46 319.80,598.44 320.30,598.45 320.80,598.52 321.30,598.48 321.80,598.46 322.30,598.65 322.80,598.94 323.30,599.09 323.80,599.08 324.30,599.11 324.80,599.23 325.30,599.38 325.80,599.43 326.30,599.38 326.80,599.33 327.30,599.31 327.80,599.25 328.30,599.32 328.80,599.65 329.30,599.95 329.80,600.08 330.30,600.17 330.80,600.28 331.30,600.34 331.80,600.39 332.30,600.54 332.80,600.67 333.30,600.68 333.80,600.65 334.30,600.73 334.80,600.93 335.30,601.25 335.80,601.52 336.30,601.55 336.80,601.43 337.30,601.37 337.80,601.43 338.30,601.50 338.80,601.47 339.30,601.34 339.80,601.27 340.30,601.40 340.80,601.64 341.30,601.88 341.80,601.99 342.30,601.92 342.80,601.94 343.30,602.07 343.80,602.18 344.30,602.29 344.80,602.41 345.30,602.50 345.80,602.64 346.30,602.85 346.80,602.93 347.30,602.87 347.80,602.92 348.30,603.03 348.80,603.03 349.30,603.03 349.80,603.17 350.30,603.33 350.80,603.44 351.30,603.57 351.80,603.70 352.30,603.82 352.80,604.03 353.30,604.24 353.80,604.35 354.30,604.31 354.80,604.29 355.30,604.44 355.80,604.61 356.30,604.65 356.80,604.65 357.30,604.70 357.80,604.72 358.30,604.72 358.80,604.75 359.30,604.71 359.80,604.71 360.30,604.80 360.80,604.90 361.30,604.98 361.80,605.07 362.30,605.18 362.80,605.28 363.30,605.34 363.80,605.39 364.30,605.37 364.80,605.35 365.30,605.42 365.80,605.52 366.30,605.62 366.80,605.76 367.30,605.79 367.80,605.61 368.30,605.42 368.80,605.41 369.30,605.46 369.80,605.51 370.30,605.58 370.80,605.71 371.30,605.82 371.80,605.81 372.30,605.79 372.80,605.85 373.30,605.93 373.80,605.93 374.30,605.82 374.80,605.61 375.30,605.35 375.80,605.16 376.30,605.25 376.80,605.54 377.30,605.82 377.80,605.99 378.30,605.95 378.80,605.82 379.30,605.91 379.80,606.03 380.30,605.93 380.80,605.80 381.30,605.76 381.80,605.77 382.30,605.84 382.80,605.95 383.30,606.02 383.80,606.04 384.30,606.07 384.80,606.14 385.30,606.22 385.80,606.25 386.30,606.21 386.80,606.19 387.30,606.20 387.80,606.26 388.30,606.32 388.80,606.35 389.30,606.46 389.80,606.57 390.30,606.63 390.80,606.68 391.30,606.62 391.80,606.51 392.30,606.51 392.80,606.53 393.30,606.52 393.80,606.55 394.30,606.47 394.80,606.25 395.30,606.12 395.80,606.14 396.30,606.09 396.80,605.99 397.30,605.93 397.80,605.99 398.30,606.19 398.80,606.28 399.30,606.20 399.80,606.21 400.30,606.27 400.80,606.33 401.30,606.44 401.80,606.56 402.30,606.56 402.80,606.46 403.30,606.47 403.80,606.65 404.30,606.81 404.80,606.85 405.30,606.89 405.80,606.89 406.30,606.93 406.80,607.17 407.30,607.49 407.80,607.73 408.30,607.71 408.80,607.47 409.30,607.23 409.80,607.12 410.30,607.19 410.80,607.36 411.30,607.44 411.80,607.47 412.30,607.57 412.80,607.72 413.30,607.77 413.80,607.71 414.30,607.69 414.80,607.75 415.30,607.69 415.80,607.46 416.30,607.41 416.80,607.63 417.30,607.90 417.80,608.13 418.30,608.25 418.80,608.18 419.30,608.01 419.80,607.94 420.30,608.00 420.80,608.10 421.30,608.15 421.80,608.12 422.30,608.05 422.80,608.02 423.30,608.02 423.80,608.03 424.30,608.06 424.80,608.20 425.30,608.41 425.80,608.53 426.30,608.42 426.80,608.15 427.30,607.99 427.80,608.11 428.30,608.38 428.80,608.64 429.30,608.82 429.80,608.90 430.30,608.85 430.80,608.66 431.30,608.42 431.80,608.27 432.30,608.21 432.80,608.13 433.30,608.11 433.80,608.20 434.30,608.26 434.80,608.23 435.30,608.20 435.80,608.20 436.30,608.13 436.80,607.93 437.30,607.73 437.80,607.65 438.30,607.74 438.80,607.88 439.30,607.92 439.80,607.93 440.30,607.91 440.80,607.87 441.30,607.92 441.80,608.07 442.30,608.21 442.80,608.19 443.30,607.99 443.80,607.82 444.30,607.89 444.80,608.05 445.30,608.02 445.80,607.99 446.30,608.08 446.80,608.20 447.30,608.37 447.80,608.52 448.30,608.52 448.80,608.36 449.30,608.15 449.80,608.09 450.30,608.23 450.80,608.39 451.30,608.47 451.80,608.42 452.30,608.28 452.80,608.24 453.30,608.44 453.80,608.73 454.30,608.99 454.80,609.11 455.30,609.02 455.80,608.87 456.30,608.83 456.80,608.91 457.30,608.99 457.80,609.00 458.30,608.95 458.80,608.90 459.30,608.99 459.80,609.10 460.30,609.04 460.80,608.92 461.30,609.02 461.80,609.17 462.30,609.16 462.80,609.23 463.30,609.47 463.80,609.52 464.30,609.25 464.80,608.94 465.30,608.80 465.80,608.76 466.30,608.76 466.80,608.83 467.30,608.96 467.80,609.07 468.30,609.08 468.80,609.00 469.30,608.96 469.80,609.03 470.30,609.04 470.80,608.98 471.30,608.99 471.80,609.05 472.30,609.10 472.80,609.16 473.30,609.25 473.80,609.25 474.30,609.11 474.80,608.96 475.30,608.91 475.80,609.02 476.30,609.20 476.80,609.27 477.30,609.20 477.80,609.08 478.30,609.00 478.80,608.97 479.30,608.96 479.80,609.00 480.30,609.01 480.80,609.01 481.30,609.06 481.80,609.11 482.30,609.13 482.80,609.16 483.30,609.27 483.80,609.35 484.30,609.28 484.80,609.11 485.30,608.89 485.80,608.67 486.30,608.56 486.80,608.57 487.30,608.60 487.80,608.54 488.30,608.48 488.80,608.55 489.30,608.70 489.80,608.72 490.30,608.72 490.80,608.94 491.30,609.21 491.80,609.14 492.30,608.75 492.80,608.46 493.30,608.54 493.80,608.82 494.30,609.02 494.80,609.12 495.30,609.15 495.80,609.10 496.30,609.01 496.80,609.02 497.30,609.12 497.80,609.10 498.30,609.09 498.80,609.21 499.30,609.25 499.80,609.16 500.30,609.03 500.80,608.99 501.30,608.92 501.80,608.80 502.30,608.75 502.80,608.75 503.30,608.70 503.80,608.64 504.30,608.68 504.80,608.86 505.30,609.03 505.80,609.05 506.30,608.89 506.80,608.69 507.30,608.65 507.80,608.83 508.30,609.16 508.80,609.53 509.30,609.66 509.80,609.43 510.30,609.04 510.80,608.84 511.30,608.91 511.80,609.14 512.30,609.34 512.80,609.39 513.30,609.38 513.80,609.46 514.30,609.53 514.80,609.49 515.30,609.42 515.80,609.39 516.30,609.44 516.80,609.58 517.30,609.76 517.80,609.95 518.30,610.05 518.80,609.96 519.30,609.72 519.80,609.56 520.30,609.57 520.80,609.68 521.30,609.78 521.80,609.92 522.30,610.08 522.80,610.09 523.30,609.94 523.80,609.81 524.30,609.77 524.80,609.74 525.30,609.62 525.80,609.46 526.30,609.37 526.80,609.41 527.30,609.57 527.80,609.66 528.30,609.61 528.80,609.57 529.30,609.60 529.80,609.78 530.30,610.01 530.80,610.05 531.30,609.92 531.80,609.80 532.30,609.78 532.80,609.78 533.30,609.75 533.80,609.69 534.30,609.66 534.80,609.67 535.30,609.81 535.80,610.02 536.30,610.01 536.80,609.76 537.30,609.56 537.80,609.54 538.30,609.56 538.80,609.55 539.30,609.54 539.80,609.65 540.30,609.77 540.80,609.74 541.30,609.62 541.80,609.57 542.30,609.55 542.80,609.55 543.30,609.63 543.80,609.77 544.30,609.91 544.80,609.93 545.30,609.87 545.80,609.97 546.30,610.20 546.80,610.28 547.30,610.14 547.80,610.05 548.30,610.11 548.80,610.14 549.30,610.12 549.80,610.13 550.30,610.10 550.80,610.02 551.30,609.92 551.80,609.87 552.30,609.90 552.80,610.00 553.30,610.03 553.80,609.99 554.30,610.01 554.80,610.13 555.30,610.27 555.80,610.36 556.30,610.42 556.80,610.49 557.30,610.53 557.80,610.61 558.30,610.62 558.80,610.43 559.30,610.21 559.80,610.21 560.30,610.38 560.80,610.58 561.30,610.73 561.80,610.78 562.30,610.66 562.80,610.45 563.30,610.27 563.80,610.12 564.30,610.02 564.80,609.95 565.30,610.01 565.80,610.21 566.30,610.31 566.80,610.19 567.30,609.96 567.80,609.86 568.30,609.93 568.80,610.00 569.30,610.01 569.80,609.98 570.30,609.96 570.80,610.03 571.30,610.13 571.80,610.13 572.30,610.17 572.80,610.38 573.30,610.60 573.80,610.77 574.30,611.14 574.80,611.64 575.30,612.18 575.80,612.77 576.30,613.63 576.80,614.89 577.30,616.37 577.80,617.79 578.30,619.18 578.80,620.75 579.30,622.44 579.80,624.02 580.30,625.51 580.80,626.93 581.30,628.31 581.80,629.68 582.30,630.92 582.80,632.04 583.30,633.20 583.80,634.54 584.30,635.96 584.80,637.10 585.30,637.90 585.80,638.52 586.30,639.19 586.80,640.06 587.30,640.90 587.80,641.44 588.30,641.86 588.80,642.40 589.30,642.99 589.80,643.51 590.30,643.96 590.80,644.44 591.30,645.01 591.80,645.65 592.30,646.31 592.80,646.94 593.30,647.47 593.80,647.88 594.30,648.26 594.80,648.71 595.30,649.26 595.80,649.82 596.30,650.31 596.80,650.73 597.30,651.12 597.80,651.46 598.30,651.78 598.80,652.23 599.30,652.86 599.80,653.43 600.30,653.92 600.80,654.38 601.30,654.79 601.80,655.22 602.30,655.67 602.80,656.12 603.30,656.54 603.80,656.81 604.30,656.92 604.80,657.04 605.30,657.39 605.80,657.97 606.30,658.52 606.80,658.83 607.30,659.04 607.80,659.33 608.30,659.70 608.80,659.98 609.30,660.15 609.80,660.36 610.30,660.55 610.80,660.74 611.30,661.09 611.80,661.55 612.30,661.91 612.80,662.19 613.30,662.56 613.80,662.98 614.30,663.37 614.80,663.65 615.30,663.81 615.80,663.96 616.30,664.23 616.80,664.60 617.30,665.13 617.80,665.73 618.30,666.17 618.80,666.34 619.30,666.38 619.80,666.47 620.30,666.73 620.80,667.11 621.30,667.42 621.80,667.68 622.30,668.07 622.80,668.51 623.30,668.80 623.80,668.97 624.30,669.20 624.80,669.47 625.30,669.60 625.80,669.56 626.30,669.46 626.80,669.45 627.30,669.62 627.80,670.00 628.30,670.52 628.80,670.95 629.30,671.25 629.80,671.54 630.30,671.77 630.80,671.91 631.30,672.16 631.80,672.58 632.30,672.91 632.80,673.11 633.30,673.27 633.80,673.31 634.30,673.26 634.80,673.28 635.30,673.39 635.80,673.63 636.30,674.00 636.80,674.38 637.30,674.58 637.80,674.65 638.30,674.77 638.80,674.96 639.30,675.25 639.80,675.52 640.30,675.63 640.80,675.71 641.30,675.91 641.80,676.20 642.30,676.58 642.80,676.99 643.30,677.24 643.80,677.22 644.30,677.07 644.80,677.04 645.30,677.17 645.80,677.25 646.30,677.31 646.80,677.57 647.30,677.82 647.80,677.85 648.30,677.88 648.80,678.06 649.30,678.29 649.80,678.39 650.30,678.40 650.80,678.48 651.30,678.68 651.80,678.82 652.30,678.91 652.80,679.02 653.30,679.03 653.80,678.89 654.30,678.80 654.80,678.83 655.30,678.85 655.80,678.95 656.30,679.32 656.80,679.71 657.30,679.85 657.80,679.77 658.30,679.72 658.80,680.00 659.30,680.41 659.80,680.53 660.30,680.40 660.80,680.31 661.30,680.32 661.80,680.32 662.30,680.34 662.80,680.45 663.30,680.72 663.80,681.05 664.30,681.25 664.80,681.21 665.30,681.07 665.80,680.98 666.30,681.01 666.80,681.14 667.30,681.31 667.80,681.42 668.30,681.37 668.80,681.28 669.30,681.35 669.80,681.47 670.30,681.56 670.80,681.70 671.30,681.86 671.80,682.00 672.30,682.03 672.80,681.94 673.30,681.84 673.80,681.68 674.30,681.46 674.80,681.30 675.30,681.34 675.80,681.56 676.30,681.79 676.80,681.94 677.30,681.97 677.80,681.98 678.30,682.11 678.80,682.27 679.30,682.37 679.80,682.44 680.30,682.51 680.80,682.60 681.30,682.62 681.80,682.53 682.30,682.53 682.80,682.76 683.30,683.07 683.80,683.25 684.30,683.18 684.80,683.01 685.30,683.08 685.80,683.42 686.30,683.78 686.80,683.97 687.30,683.98 687.80,684.04 688.30,684.23 688.80,684.28 689.30,684.22 689.80,684.32 690.30,684.46 690.80,684.50 691.30,684.60 691.80,684.76 692.30,684.83 692.80,684.82 693.30,684.84 693.80,684.95 694.30,685.05 694.80,685.13 695.30,685.24 695.80,685.41 696.30,685.56 696.80,685.59 697.30,685.52 697.80,685.46 698.30,685.52 698.80,685.56 699.30,685.45 699.80,685.28 700.30,685.20 700.80,685.28 701.30,685.33 701.80,685.37 702.30,685.51 702.80,685.66 703.30,685.74 703.80,685.81 704.30,685.85 704.80,685.86 705.30,685.88 705.80,685.89 706.30,685.78 706.80,685.62 707.30,685.60 707.80,685.70 708.30,685.88 708.80,686.10 709.30,686.12 709.80,685.96 710.30,685.93 710.80,686.03 711.30,686.03 711.80,685.94 712.30,685.96 712.80,686.19 713.30,686.43 713.80,686.53 714.30,686.69 714.80,686.94 715.30,687.09 715.80,687.13 716.30,687.06 716.80,686.86 717.30,686.60 717.80,686.54 718.30,686.80 718.80,687.13 719.30,687.21 719.80,687.07 720.30,686.88 720.80,686.80 721.30,686.98 721.80,687.34 722.30,687.48 722.80,687.38 723.30,687.33 723.80,687.45 724.30,687.61 724.80,687.69 725.30,687.70 725.80,687.72 726.30,687.83 726.80,687.97 727.30,687.99 727.80,687.90 728.30,687.77 728.80,687.71 729.30,687.72 729.80,687.70 730.30,687.67 730.80,687.64 731.30,687.60 731.80,687.71 732.30,687.91 732.80,687.98 733.30,687.91 733.80,687.86 734.30,687.85 734.80,687.78 735.30,687.74 735.80,687.80 736.30,687.89 736.80,687.97 737.30,688.01 737.80,687.96 738.30,687.93 738.80,688.03 739.30,688.09 739.80,687.97 740.30,687.84 740.80,687.83 741.30,687.89 741.80,687.99 742.30,688.14 742.80,688.21 743.30,688.10 743.80,687.99 744.30,688.02 744.80,688.12 745.30,688.20 745.80,688.29 746.30,688.43 746.80,688.64 747.30,688.86 747.80,688.84 748.30,688.63 748.80,688.59 749.30,688.69 749.80,688.76 750.30,688.91 750.80,689.19 751.30,689.43 751.80,689.45 752.30,689.32 752.80,689.22 753.30,689.15 753.80,689.06 754.30,688.95 754.80,688.99 755.30,689.26 755.80,689.51 756.30,689.48 756.80,689.32 757.30,689.30 757.80,689.39 758.30,689.47 758.80,689.55 759.30,689.67 759.80,689.75 760.30,689.77 760.80,689.65 761.30,689.52 761.80,689.63 762.30,689.84 762.80,689.92 763.30,689.88 763.80,689.78 764.30,689.70 764.80,689.78 765.30,689.94 765.80,690.00 766.30,689.85 766.80,689.61 767.30,689.44 767.80,689.33 768.30,689.35 768.80,689.47 769.30,689.60 769.80,689.68 770.30,689.67 770.80,689.61 771.30,689.60 771.80,689.55 772.30,689.43 772.80,689.39 773.30,689.51 773.80,689.64 774.30,689.67 774.80,689.61 775.30,689.60 775.80,689.69 776.30,689.83 776.80,689.96 777.30,689.99 777.80,689.88 778.30,689.68 778.80,689.51 779.30,689.56 779.80,689.76 780.30,689.87 780.80,689.83 781.30,689.70 781.80,689.57 782.30,689.58 782.80,689.76 783.30,689.88 783.80,689.96 784.30,690.03 784.80,689.99 785.30,689.82 785.80,689.58 786.30,689.45 786.80,689.44 787.30,689.44 787.80,689.39 788.30,689.33 788.80,689.37 789.30,689.42 789.80,689.46 790.30,689.54 790.80,689.60 791.30,689.68 791.80,689.80 792.30,689.89 792.80,689.96 793.30,689.99 793.80,689.94 794.30,689.88 794.80,689.85 795.30,689.85 795.80,689.76 796.30,689.54 796.80,689.34 797.30,689.32 797.80,689.49 798.30,689.68 798.80,689.77 799.30,689.82 799.80,689.94 800.30,690.05 800.80,690.04 801.30,689.94 801.80,689.88 802.30,689.81 802.80,689.68 803.30,689.60 803.80,689.58 804.30,689.59 804.80,689.54 805.30,689.40 805.80,689.37 806.30,689.46 806.80,689.57 807.30,689.63 807.80,689.63 808.30,689.62 808.80,689.69 809.30,689.83 809.80,689.90 810.30,689.91 810.80,689.98 811.30,690.09 811.80,690.05 812.30,689.84 812.80,689.69 813.30,689.74 813.80,689.82 814.30,689.73 814.80,689.69 815.30,689.81 815.80,689.87 816.30,689.74 816.80,689.61 817.30,689.61 817.80,689.80 818.30,690.02 818.80,690.03 819.30,689.94 819.80,689.90 820.30,689.86 820.80,689.73 821.30,689.63 821.80,689.74 822.30,689.94 822.80,689.99 823.30,689.97 823.80,689.98 824.30,690.05 824.80,690.07 825.30,690.05 825.80,689.99 826.30,689.79 826.80,689.60 827.30,689.50 827.80,689.47 828.30,689.49 828.80,689.56 829.30,689.68 829.80,689.68 830.30,689.46 830.80,689.31 831.30,689.40 831.80,689.64 832.30,689.87 832.80,689.97 833.30,689.98 833.80,690.01 834.30,689.92 834.80,689.64 835.30,689.45 835.80,689.49 836.30,689.53 836.80,689.44 837.30,689.29 837.80,689.23 838.30,689.25 838.80,689.28 839.30,689.32 839.80,689.47 840.30,689.71 840.80,689.88 841.30,689.85 841.80,689.68 842.30,689.55 842.80,689.51 843.30,689.50 843.80,689.45 844.30,689.34 844.80,689.29 845.30,689.39 845.80,689.46 846.30,689.46 846.80,689.61 847.30,689.88 847.80,690.04 848.30,690.09 848.80,690.21 849.30,690.33 849.80,690.27 850.30,690.09 850.80,690.04 851.30,690.13 851.80,690.14 852.30,690.09 852.80,690.12 853.30,690.19 853.80,690.21 854.30,690.19 854.80,690.20 855.30,690.37 855.80,690.71 856.30,690.94 856.80,690.93 857.30,690.80 857.80,690.75 858.30,690.76 858.80,690.67 859.30,690.53 859.80,690.51 860.30,690.55 860.80,690.65 861.30,690.84 861.80,691.04 862.30,691.09 862.80,691.06 863.30,691.01 863.80,690.86 864.30,690.70 864.80,690.66 865.30,690.70 865.80,690.79 866.30,690.84 866.80,690.82 867.30,690.82 867.80,690.87 868.30,690.88 868.80,690.78 869.30,690.53 869.80,690.24 870.30,690.11 870.80,690.23 871.30,690.46 871.80,690.50 872.30,690.37 872.80,690.30 873.30,690.35 873.80,690.39 874.30,690.32 874.80,690.24 875.30,690.28 875.80,690.38 876.30,690.39 876.80,690.40 877.30,690.38 877.80,690.31 878.30,690.33 878.80,690.37 879.30,690.32 879.80,690.18 880.30,690.02 880.80,690.07 881.30,690.33 881.80,690.50 882.30,690.57 882.80,690.58 883.30,690.53 883.80,690.52 884.30,690.59 884.80,690.63 885.30,690.58 885.80,690.43 886.30,690.24 886.80,690.13 887.30,690.18 887.80,690.32 888.30,690.49 888.80,690.59 889.30,690.56 889.80,690.52 890.30,690.52 890.80,690.45 891.30,690.33 891.80,690.20 892.30,690.05 892.80,689.98 893.30,690.00 893.80,690.02 894.30,690.03 894.80,690.07 895.30,690.04 895.80,689.95 896.30,689.98 896.80,690.27 897.30,690.60 897.80,690.73 898.30,690.69 898.80,690.60 899.30,690.50 899.80,690.38 900.30,690.32 900.80,690.31 901.30,690.31 901.80,690.45 902.30,690.66 902.80,690.74 903.30,690.64 903.80,690.50 904.30,690.34 904.80,690.14 905.30,690.07 905.80,690.31 906.30,690.67 906.80,690.89 907.30,691.02 907.80,691.07 908.30,690.87 908.80,690.61 909.30,690.59 909.80,690.74 910.30,690.82 910.80,690.79 911.30,690.79 911.80,690.76 912.30,690.63 912.80,690.45 913.30,690.32 913.80,690.28 914.30,690.35 914.80,690.62 915.30,690.91 915.80,690.97 916.30,690.95 916.80,691.04 917.30,691.17 917.80,691.14 918.30,690.95 918.80,690.71 919.30,690.53 919.80,690.45 920.30,690.50 920.80,690.64 921.30,690.78 921.80,690.76 922.30,690.54 922.80,690.22 923.30,690.05 923.80,690.19 924.30,690.36 924.80,690.20 925.30,689.87 925.80,689.81 926.30,690.02 926.80,690.18 927.30,690.26 927.80,690.30 928.30,690.24 928.80,690.17 929.30,690.26 929.80,690.43 930.30,690.45 930.80,690.40 931.30,690.42 931.80,690.43 932.30,690.44 932.80,690.53 933.30,690.60 933.80,690.58 934.30,690.52 934.80,690.45 935.30,690.43 935.80,690.37 936.30,690.31 936.80,690.38 937.30,690.47 937.80,690.41 938.30,690.30 938.80,690.28 939.30,690.44 939.80,690.76 940.30,690.99 940.80,690.96 941.30,690.78 941.80,690.57 942.30,690.36 942.80,690.23 943.30,690.28 943.80,690.37 944.30,690.32 944.80,690.20 945.30,690.19 945.80,690.24 946.30,690.29 946.80,690.37 947.30,690.48 947.80,690.47 948.30,690.35 948.80,690.28 949.30,690.31 949.80,690.46 950.30,690.64 950.80,690.64 951.30,690.54 951.80,690.52 952.30,690.56 952.80,690.56 953.30,690.51 953.80,690.45 954.30,690.41 954.80,690.36 955.30,690.32 955.80,690.33 956.30,690.42 956.80,690.45 957.30,690.38 957.80,690.33 958.30,690.36 958.80,690.43 959.30,690.47 959.80,690.34 960.30,690.11 960.80,690.09 961.30,690.30 961.80,690.54 962.30,690.57 962.80,690.43 963.30,690.39 963.80,690.49 964.30,690.66 964.80,690.86 965.30,691.01 965.80,691.08 966.30,691.09 966.80,691.01 967.30,690.84 967.80,690.72 968.30,690.78 968.80,690.98 969.30,691.11 969.80,691.06 970.30,690.92 970.80,690.88 971.30,690.99 971.80,691.10 972.30,691.04 972.80,690.91 973.30,690.83 973.80,690.87 974.30,690.89 974.80,690.91 975.30,690.93 975.80,690.90 976.30,690.86 976.80,690.78 977.30,690.67 977.80,690.57 978.30,690.58 978.80,690.64 979.30,690.64 979.80,690.66 980.30,690.73 980.80,690.74 981.30,690.70 981.80,690.70 982.30,690.69 982.80,690.58 983.30,690.41 983.80,690.18 984.30,689.91 984.80,689.85 985.30,690.04 985.80,690.21 986.30,690.18 986.80,690.12 987.30,690.15 987.70,690.21" fill="none" stroke="#FF0000" stroke-width="3.6" stroke-linejoin="round" stroke-linecap="round"/>
<polyline points="153.80,650.44 154.30,650.53 154.80,650.44 155.30,650.28 155.80,650.22 156.30,650.29 156.80,650.42 157.30,650.59 157.80,650.69 158.30,650.53 158.80,650.34 159.30,650.38 159.80,650.48 160.30,650.43 160.80,650.25 161.30,650.08 161.80,649.98 162.30,649.98 162.80,650.09 163.30,650.23 163.80,650.38 164.30,650.49 164.80,650.44 165.30,650.35 165.80,650.34 166.30,650.33 166.80,650.30 167.30,650.49 167.80,650.69 168.00,650.59 168.30,648.50 168.80,637.70 169.30,630.40 169.80,626.35 170.30,624.01 170.80,622.83 171.30,622.12 171.80,621.90 172.30,622.00 172.80,622.29 173.30,623.49 173.80,625.27 174.30,627.20 174.80,629.68 175.30,632.47 175.80,635.27 176.30,637.93 176.80,640.62 177.30,643.33 177.80,646.04 178.30,648.74 178.80,651.44 179.30,654.18 179.80,657.01 180.30,659.92 180.80,662.86 181.30,665.74 181.80,668.55 182.30,671.35 182.80,674.03 183.30,676.47 183.80,678.74 184.30,680.91 184.80,682.93 185.30,684.78 185.80,686.45 186.30,687.99 186.80,689.45 187.30,690.83 187.80,692.13 188.30,693.36 188.80,694.51 189.30,695.60 189.80,696.65 190.30,697.67 190.80,698.66 191.30,699.61 191.80,700.52 192.30,701.38 192.80,702.18 193.30,702.93 193.80,703.61 194.30,704.22 194.80,704.80 195.30,705.36 195.80,705.91 196.30,706.44 196.80,706.95 197.30,707.42 197.80,707.86 198.30,708.26 198.80,708.62 199.30,708.93 199.80,709.19 200.30,709.40 200.80,709.56 201.30,709.74 201.80,709.94 202.30,710.14 202.80,710.30 203.30,710.39 203.80,710.47 204.30,710.56 204.80,710.66 205.30,710.81 205.80,710.93 206.30,710.99 206.80,711.09 207.30,711.18 207.80,711.10 208.30,710.97 208.80,711.01 209.30,711.15 209.80,711.28 210.30,711.34 210.80,711.27 211.30,711.11 211.80,711.03 212.30,711.12 212.80,711.26 213.30,711.22 213.80,711.01 214.30,710.82 214.80,710.60 215.30,710.37 215.80,710.33 216.30,710.44 216.80,710.48 217.30,710.42 217.80,710.36 218.30,710.25 218.80,710.05 219.30,709.85 219.80,709.73 220.30,709.62 220.80,709.55 221.30,709.59 221.80,709.56 222.30,709.38 222.80,709.07 223.30,708.63 223.80,708.25 224.30,708.09 224.80,708.12 225.30,708.13 225.80,707.98 226.30,707.78 226.80,707.68 227.30,707.55 227.80,707.27 228.30,707.00 228.80,706.86 229.30,706.75 229.80,706.57 230.30,706.36 230.80,706.08 231.30,705.82 231.80,705.68 232.30,705.51 232.80,705.24 233.30,704.94 233.80,704.60 234.30,704.24 234.80,703.94 235.30,703.69 235.80,703.41 236.30,703.04 236.80,702.60 237.30,702.10 237.80,701.66 238.30,701.34 238.80,701.10 239.30,700.87 239.80,700.62 240.30,700.32 240.80,700.02 241.30,699.85 241.80,699.79 242.30,699.64 242.80,699.39 243.30,699.12 243.80,698.77 244.30,698.33 244.80,697.96 245.30,697.69 245.80,697.50 246.30,697.33 246.80,697.13 247.30,696.98 247.80,696.81 248.30,696.61 248.80,696.33 249.30,695.97 249.80,695.68 250.30,695.52 250.80,695.36 251.30,695.11 251.80,694.82 252.30,694.54 252.80,694.29 253.30,694.08 253.80,693.95 254.30,693.94 254.80,694.03 255.30,693.94 255.80,693.49 256.30,693.03 256.80,692.74 257.30,692.47 257.80,692.25 258.30,692.13 258.80,692.02 259.30,691.87 259.80,691.69 260.30,691.54 260.80,691.37 261.30,691.08 261.80,690.66 262.30,690.28 262.80,690.04 263.30,689.93 263.80,689.85 264.30,689.67 264.80,689.36 265.30,688.95 265.80,688.44 266.30,688.00 266.80,687.82 267.30,687.76 267.80,687.58 268.30,687.28 268.80,686.94 269.30,686.58 269.80,686.27 270.30,686.09 270.80,685.92 271.30,685.56 271.80,685.05 272.30,684.59 272.80,684.33 273.30,684.12 273.80,683.75 274.30,683.17 274.80,682.62 275.30,682.21 275.80,681.95 276.30,681.72 276.80,681.47 277.30,681.19 277.80,680.80 278.30,680.33 278.80,679.92 279.30,679.63 279.80,679.55 280.30,679.55 280.80,679.38 281.30,679.07 281.80,678.88 282.30,678.75 282.80,678.53 283.30,678.31 283.80,678.11 284.30,677.87 284.80,677.62 285.30,677.40 285.80,677.15 286.30,676.94 286.80,676.82 287.30,676.68 287.80,676.48 288.30,676.24 288.80,675.89 289.30,675.55 289.80,675.50 290.30,675.65 290.80,675.65 291.30,675.43 291.80,675.23 292.30,675.19 292.80,675.15 293.30,674.93 293.80,674.69 294.30,674.58 294.80,674.48 295.30,674.35 295.80,674.24 296.30,674.07 296.80,673.82 297.30,673.58 297.80,673.47 298.30,673.41 298.80,673.23 299.30,672.93 299.80,672.66 300.30,672.49 300.80,672.28 301.30,671.97 301.80,671.74 302.30,671.68 302.80,671.54 303.30,671.26 303.80,671.01 304.30,670.86 304.80,670.83 305.30,670.85 305.80,670.84 306.30,670.74 306.80,670.58 307.30,670.43 307.80,670.33 308.30,670.25 308.80,670.15 309.30,670.03 309.80,669.93 310.30,669.86 310.80,669.75 311.30,669.65 311.80,669.58 312.30,669.28 312.80,668.77 313.30,668.45 313.80,668.51 314.30,668.71 314.80,668.80 315.30,668.73 315.80,668.62 316.30,668.54 316.80,668.41 317.30,668.26 317.80,668.18 318.30,668.08 318.80,667.87 319.30,667.72 319.80,667.76 320.30,667.89 320.80,667.89 321.30,667.73 321.80,667.55 322.30,667.46 322.80,667.43 323.30,667.35 323.80,667.23 324.30,667.08 324.80,666.96 325.30,666.95 325.80,666.95 326.30,666.86 326.80,666.67 327.30,666.41 327.80,666.05 328.30,665.72 328.80,665.64 329.30,665.78 329.80,665.79 330.30,665.55 330.80,665.32 331.30,665.15 331.80,665.05 332.30,665.05 332.80,665.00 333.30,664.85 333.80,664.72 334.30,664.68 334.80,664.57 335.30,664.39 335.80,664.24 336.30,664.06 336.80,663.90 337.30,663.95 337.80,664.00 338.30,663.88 338.80,663.75 339.30,663.61 339.80,663.41 340.30,663.13 340.80,662.88 341.30,662.84 341.80,662.88 342.30,662.78 342.80,662.72 343.30,662.73 343.80,662.58 344.30,662.25 344.80,661.93 345.30,661.75 345.80,661.67 346.30,661.72 346.80,661.89 347.30,661.95 347.80,661.84 348.30,661.79 348.80,661.84 349.30,661.84 349.80,661.82 350.30,661.86 350.80,661.82 351.30,661.64 351.80,661.54 352.30,661.63 352.80,661.77 353.30,661.77 353.80,661.68 354.30,661.59 354.80,661.48 355.30,661.38 355.80,661.33 356.30,661.34 356.80,661.32 357.30,661.21 357.80,661.10 358.30,660.97 358.80,660.82 359.30,660.67 359.80,660.51 360.30,660.41 360.80,660.49 361.30,660.58 361.80,660.42 362.30,660.11 362.80,659.99 363.30,660.11 363.80,660.20 364.30,660.07 364.80,659.89 365.30,659.76 365.80,659.65 366.30,659.57 366.80,659.57 367.30,659.60 367.80,659.53 368.30,659.47 368.80,659.54 369.30,659.59 369.80,659.42 370.30,659.10 370.80,658.96 371.30,659.14 371.80,659.34 372.30,659.32 372.80,659.23 373.30,659.23 373.80,659.15 374.30,658.88 374.80,658.70 375.30,658.64 375.80,658.46 376.30,658.29 376.80,658.30 377.30,658.34 377.80,658.32 378.30,658.29 378.80,658.20 379.30,658.18 379.80,658.39 380.30,658.60 380.80,658.44 381.30,658.04 381.80,657.80 382.30,657.79 382.80,657.75 383.30,657.66 383.80,657.72 384.30,657.87 384.80,657.92 385.30,657.86 385.80,657.76 386.30,657.61 386.80,657.40 387.30,657.16 387.80,656.96 388.30,656.85 388.80,656.86 389.30,656.92 389.80,657.04 390.30,657.17 390.80,657.24 391.30,657.23 391.80,657.19 392.30,657.23 392.80,657.26 393.30,657.13 393.80,656.86 394.30,656.67 394.80,656.74 395.30,656.88 395.80,656.87 396.30,656.84 396.80,656.87 397.30,656.88 397.80,656.87 398.30,656.74 398.80,656.54 399.30,656.44 399.80,656.42 400.30,656.32 400.80,656.29 401.30,656.35 401.80,656.38 402.30,656.38 402.80,656.33 403.30,656.19 403.80,656.08 404.30,656.07 404.80,656.11 405.30,656.15 405.80,656.23 406.30,656.30 406.80,656.31 407.30,656.30 407.80,656.31 408.30,656.32 408.80,656.30 409.30,656.21 409.80,656.02 410.30,655.79 410.80,655.73 411.30,655.87 411.80,655.92 412.30,655.76 412.80,655.64 413.30,655.75 413.80,655.93 414.30,655.97 414.80,655.82 415.30,655.72 415.80,655.78 416.30,655.89 416.80,655.93 417.30,655.91 417.80,655.90 418.30,655.92 418.80,655.83 419.30,655.62 419.80,655.58 420.30,655.83 420.80,656.00 421.30,655.87 421.80,655.65 422.30,655.46 422.80,655.19 423.30,654.95 423.80,654.91 424.30,654.91 424.80,654.76 425.30,654.73 425.80,654.88 426.30,654.97 426.80,654.86 427.30,654.62 427.80,654.43 428.30,654.34 428.80,654.31 429.30,654.36 429.80,654.47 430.30,654.50 430.80,654.44 431.30,654.41 431.80,654.49 432.30,654.57 432.80,654.52 433.30,654.32 433.80,654.08 434.30,653.90 434.80,653.85 435.30,653.96 435.80,654.14 436.30,654.25 436.80,654.23 437.30,654.13 437.80,653.91 438.30,653.62 438.80,653.50 439.30,653.53 439.80,653.55 440.30,653.58 440.80,653.71 441.30,653.79 441.80,653.73 442.30,653.58 442.80,653.45 443.30,653.35 443.80,653.18 444.30,653.07 444.80,653.15 445.30,653.18 445.80,653.03 446.30,652.86 446.80,652.84 447.30,652.87 447.80,653.00 448.30,653.28 448.80,653.48 449.30,653.51 449.80,653.46 450.30,653.36 450.80,653.32 451.30,653.41 451.80,653.40 452.30,653.25 452.80,653.18 453.30,653.36 453.80,653.66 454.30,653.92 454.80,654.02 455.30,653.95 455.80,653.88 456.30,653.87 456.80,653.87 457.30,653.84 457.80,653.75 458.30,653.61 458.80,653.47 459.30,653.44 459.80,653.52 460.30,653.59 460.80,653.69 461.30,653.87 461.80,654.04 462.30,654.19 462.80,654.27 463.30,654.18 463.80,654.01 464.30,653.95 464.80,654.01 465.30,654.02 465.80,653.96 466.30,653.97 466.80,653.99 467.30,654.02 467.80,654.13 468.30,654.17 468.80,654.01 469.30,653.85 469.80,653.76 470.30,653.67 470.80,653.67 471.30,653.88 471.80,654.08 472.30,654.04 472.80,653.78 473.30,653.59 473.80,653.55 474.30,653.53 474.80,653.51 475.30,653.52 475.80,653.52 476.30,653.52 476.80,653.54 477.30,653.64 477.80,653.73 478.30,653.60 478.80,653.30 479.30,653.10 479.80,653.06 480.30,653.09 480.80,653.21 481.30,653.36 481.80,653.34 482.30,653.22 482.80,653.21 483.30,653.26 483.80,653.31 484.30,653.39 484.80,653.53 485.30,653.60 485.80,653.59 486.30,653.53 486.80,653.53 487.30,653.56 487.80,653.52 488.30,653.33 488.80,653.12 489.30,653.08 489.80,653.24 490.30,653.44 490.80,653.57 491.30,653.67 491.80,653.76 492.30,653.74 492.80,653.68 493.30,653.75 493.80,653.75 494.30,653.55 494.80,653.39 495.30,653.38 495.80,653.36 496.30,653.35 496.80,653.45 497.30,653.55 497.80,653.40 498.30,653.06 498.80,652.82 499.30,652.82 499.80,652.91 500.30,652.94 500.80,652.98 501.30,653.06 501.80,653.07 502.30,653.09 502.80,653.21 503.30,653.33 503.80,653.32 504.30,653.28 504.80,653.24 505.30,653.12 505.80,652.90 506.30,652.83 506.80,653.06 507.30,653.33 507.80,653.30 508.30,653.07 508.80,652.98 509.30,653.07 509.80,653.13 510.30,653.08 510.80,652.92 511.30,652.87 511.80,653.00 512.30,652.99 512.80,652.73 513.30,652.55 513.80,652.55 514.30,652.65 514.80,652.79 515.30,652.91 515.80,653.01 516.30,653.07 516.80,653.11 517.30,653.10 517.80,653.02 518.30,652.97 518.80,652.99 519.30,653.04 519.80,653.08 520.30,653.06 520.80,653.05 521.30,653.13 521.80,653.17 522.30,653.04 522.80,652.88 523.30,652.88 523.80,653.03 524.30,653.15 524.80,653.22 525.30,653.25 525.80,653.26 526.30,653.28 526.80,653.25 527.30,653.14 527.80,653.04 528.30,653.03 528.80,652.99 529.30,652.88 529.80,652.80 530.30,652.86 530.80,652.89 531.30,652.77 531.80,652.64 532.30,652.56 532.80,652.49 533.30,652.47 533.80,652.58 534.30,652.62 534.80,652.58 535.30,652.61 535.80,652.68 536.30,652.71 536.80,652.73 537.30,652.74 537.80,652.73 538.30,652.77 538.80,652.79 539.30,652.69 539.80,652.65 540.30,652.76 540.80,652.84 541.30,652.77 541.80,652.72 542.30,652.74 542.80,652.74 543.30,652.72 543.80,652.83 544.30,652.97 544.80,652.93 545.30,652.83 545.80,652.85 546.30,652.90 546.80,652.84 547.30,652.73 547.80,652.73 548.30,652.74 548.80,652.66 549.30,652.66 549.80,652.76 550.30,652.81 550.80,652.76 551.30,652.67 551.80,652.60 552.30,652.70 552.80,652.85 553.30,652.87 553.80,652.84 554.30,652.87 554.80,652.92 555.30,652.93 555.80,652.94 556.30,652.88 556.80,652.67 557.30,652.49 557.80,652.59 558.30,652.82 558.80,652.82 559.30,652.59 559.80,652.46 560.30,652.65 560.80,652.98 561.30,653.07 561.80,652.83 562.30,652.49 562.80,652.31 563.30,652.33 563.80,652.42 564.30,652.53 564.80,652.63 565.30,652.72 565.80,652.76 566.30,652.81 566.80,652.90 567.30,652.93 567.80,652.85 568.30,652.71 568.80,652.50 569.30,652.27 569.80,652.23 570.30,652.45 570.80,652.77 571.30,652.92 571.80,652.79 572.30,652.55 572.80,652.41 573.30,652.42 573.80,652.53 574.30,652.73 574.80,653.02 575.30,653.41 575.80,653.82 576.30,654.15 576.80,654.50 577.30,654.97 577.80,655.51 578.30,656.32 578.80,657.47 579.30,658.73 579.80,659.97 580.30,661.23 580.80,662.56 581.30,663.81 581.80,664.79 582.30,665.62 582.80,666.56 583.30,667.47 583.80,668.15 584.30,668.56 584.80,668.83 585.30,669.11 585.80,669.38 586.30,669.64 586.80,669.91 587.30,670.09 587.80,670.22 588.30,670.41 588.80,670.68 589.30,670.90 589.80,670.93 590.30,670.87 590.80,670.94 591.30,671.10 591.80,671.20 592.30,671.21 592.80,671.14 593.30,671.10 593.80,671.33 594.30,671.68 594.80,671.83 595.30,671.73 595.80,671.67 596.30,671.77 596.80,671.78 597.30,671.60 597.80,671.43 598.30,671.35 598.80,671.19 599.30,670.96 599.80,670.87 600.30,671.02 600.80,671.25 601.30,671.41 601.80,671.50 602.30,671.67 602.80,671.91 603.30,671.96 603.80,671.69 604.30,671.39 604.80,671.27 605.30,671.24 605.80,671.21 606.30,671.15 606.80,670.92 607.30,670.61 607.80,670.51 608.30,670.64 608.80,670.83 609.30,670.84 609.80,670.60 610.30,670.26 610.80,669.97 611.30,669.74 611.80,669.56 612.30,669.50 612.80,669.54 613.30,669.56 613.80,669.51 614.30,669.46 614.80,669.39 615.30,669.32 615.80,669.26 616.30,669.17 616.80,668.96 617.30,668.79 617.80,668.82 618.30,668.87 618.80,668.83 619.30,668.74 619.80,668.66 620.30,668.60 620.80,668.58 621.30,668.57 621.80,668.44 622.30,668.26 622.80,668.24 623.30,668.34 623.80,668.32 624.30,668.14 624.80,667.95 625.30,667.91 625.80,667.96 626.30,667.96 626.80,667.84 627.30,667.70 627.80,667.59 628.30,667.47 628.80,667.33 629.30,667.23 629.80,667.21 630.30,667.30 630.80,667.49 631.30,667.61 631.80,667.51 632.30,667.30 632.80,667.17 633.30,667.14 633.80,667.08 634.30,666.98 634.80,666.88 635.30,666.83 635.80,666.79 636.30,666.65 636.80,666.57 637.30,666.63 637.80,666.70 638.30,666.75 638.80,666.71 639.30,666.53 639.80,666.26 640.30,666.03 640.80,665.98 641.30,666.01 641.80,665.93 642.30,665.74 642.80,665.63 643.30,665.66 643.80,665.77 644.30,665.86 644.80,665.86 645.30,665.82 645.80,665.82 646.30,665.77 646.80,665.59 647.30,665.37 647.80,665.24 648.30,665.08 648.80,664.92 649.30,664.89 649.80,664.92 650.30,664.86 650.80,664.73 651.30,664.55 651.80,664.33 652.30,664.20 652.80,664.15 653.30,664.04 653.80,663.94 654.30,663.99 654.80,664.01 655.30,663.86 655.80,663.70 656.30,663.65 656.80,663.61 657.30,663.46 657.80,663.22 658.30,662.99 658.80,662.86 659.30,662.85 659.80,662.82 660.30,662.71 660.80,662.61 661.30,662.52 661.80,662.32 662.30,662.13 662.80,662.14 663.30,662.32 663.80,662.43 664.30,662.26 664.80,661.93 665.30,661.73 665.80,661.69 666.30,661.68 666.80,661.60 667.30,661.48 667.80,661.40 668.30,661.37 668.80,661.22 669.30,660.99 669.80,660.96 670.30,661.04 670.80,661.03 671.30,660.92 671.80,660.81 672.30,660.73 672.80,660.68 673.30,660.71 673.80,660.75 674.30,660.67 674.80,660.42 675.30,660.16 675.80,660.03 676.30,659.97 676.80,659.89 677.30,659.84 677.80,659.88 678.30,659.97 678.80,659.88 679.30,659.56 679.80,659.25 680.30,659.16 680.80,659.33 681.30,659.52 681.80,659.57 682.30,659.58 682.80,659.61 683.30,659.53 683.80,659.38 684.30,659.33 684.80,659.45 685.30,659.48 685.80,659.24 686.30,659.01 686.80,659.09 687.30,659.25 687.80,659.17 688.30,658.92 688.80,658.68 689.30,658.55 689.80,658.48 690.30,658.38 690.80,658.27 691.30,658.25 691.80,658.36 692.30,658.51 692.80,658.46 693.30,658.26 693.80,658.13 694.30,658.03 694.80,657.79 695.30,657.56 695.80,657.51 696.30,657.54 696.80,657.42 697.30,657.19 697.80,656.98 698.30,656.88 698.80,656.80 699.30,656.61 699.80,656.34 700.30,656.13 700.80,656.05 701.30,656.02 701.80,655.92 702.30,655.80 702.80,655.71 703.30,655.60 703.80,655.51 704.30,655.53 704.80,655.49 705.30,655.40 705.80,655.41 706.30,655.46 706.80,655.43 707.30,655.37 707.80,655.29 708.30,655.15 708.80,654.98 709.30,654.94 709.80,654.97 710.30,654.90 710.80,654.77 711.30,654.70 711.80,654.66 712.30,654.54 712.80,654.35 713.30,654.26 713.80,654.42 714.30,654.78 714.80,655.11 715.30,655.17 715.80,655.06 716.30,654.97 716.80,654.93 717.30,654.84 717.80,654.73 718.30,654.54 718.80,654.24 719.30,654.08 719.80,654.26 720.30,654.58 720.80,654.69 721.30,654.58 721.80,654.45 722.30,654.39 722.80,654.36 723.30,654.32 723.80,654.32 724.30,654.33 724.80,654.32 725.30,654.18 725.80,654.02 726.30,653.92 726.80,653.85 727.30,653.76 727.80,653.69 728.30,653.75 728.80,653.87 729.30,653.92 729.80,653.89 730.30,653.77 730.80,653.59 731.30,653.51 731.80,653.53 732.30,653.58 732.80,653.65 733.30,653.68 733.80,653.61 734.30,653.60 734.80,653.66 735.30,653.57 735.80,653.42 736.30,653.30 736.80,653.19 737.30,653.11 737.80,653.03 738.30,652.93 738.80,652.96 739.30,653.13 739.80,653.16 740.30,653.00 740.80,652.82 741.30,652.64 741.80,652.40 742.30,652.18 742.80,651.96 743.30,651.74 743.80,651.73 744.30,652.01 744.80,652.32 745.30,652.37 745.80,652.14 746.30,651.87 746.80,651.87 747.30,651.91 747.80,651.77 748.30,651.65 748.80,651.69 749.30,651.77 749.80,651.79 750.30,651.80 750.80,651.80 751.30,651.71 751.80,651.55 752.30,651.43 752.80,651.37 753.30,651.38 753.80,651.46 754.30,651.48 754.80,651.32 755.30,651.14 755.80,651.12 756.30,651.15 756.80,651.04 757.30,650.86 757.80,650.85 758.30,651.01 758.80,651.13 759.30,651.14 759.80,651.18 760.30,651.27 760.80,651.27 761.30,651.07 761.80,650.85 762.30,650.89 762.80,651.10 763.30,651.23 763.80,651.16 764.30,650.96 764.80,650.85 765.30,650.93 765.80,651.12 766.30,651.23 766.80,651.08 767.30,650.75 767.80,650.60 768.30,650.73 768.80,650.88 769.30,650.94 769.80,651.06 770.30,651.19 770.80,651.14 771.30,651.01 771.80,651.03 772.30,651.11 772.80,651.19 773.30,651.32 773.80,651.49 774.30,651.53 774.80,651.33 775.30,651.12 775.80,651.14 776.30,651.36 776.80,651.52 777.30,651.48 777.80,651.34 778.30,651.20 778.80,651.08 779.30,651.00 779.80,651.02 780.30,651.13 780.80,651.18 781.30,651.07 781.80,650.94 782.30,650.90 782.80,650.93 783.30,650.99 783.80,651.05 784.30,651.15 784.80,651.23 785.30,651.13 785.80,650.91 786.30,650.78 786.80,650.83 787.30,650.95 787.80,651.03 788.30,651.07 788.80,651.08 789.30,651.05 789.80,650.99 790.30,650.98 790.80,651.03 791.30,651.11 791.80,651.21 792.30,651.37 792.80,651.47 793.30,651.37 793.80,651.12 794.30,650.94 794.80,650.89 795.30,650.98 795.80,651.21 796.30,651.35 796.80,651.36 797.30,651.38 797.80,651.45 798.30,651.44 798.80,651.30 799.30,651.17 799.80,651.17 800.30,651.24 800.80,651.35 801.30,651.47 801.80,651.48 802.30,651.36 802.80,651.13 803.30,650.88 803.80,650.73 804.30,650.73 804.80,650.83 805.30,650.84 805.80,650.66 806.30,650.43 806.80,650.23 807.30,649.99 807.80,649.81 808.30,649.78 808.80,649.79 809.30,649.85 809.80,649.93 810.30,649.99 810.80,650.11 811.30,650.29 811.80,650.36 812.30,650.30 812.80,650.18 813.30,650.13 813.80,650.09 814.30,649.97 814.80,649.90 815.30,649.91 815.80,649.94 816.30,649.96 816.80,649.94 817.30,649.87 817.80,649.78 818.30,649.74 818.80,649.80 819.30,649.92 819.80,649.94 820.30,649.81 820.80,649.71 821.30,649.68 821.80,649.61 822.30,649.49 822.80,649.51 823.30,649.59 823.80,649.49 824.30,649.24 824.80,649.10 825.30,649.13 825.80,649.25 826.30,649.45 826.80,649.65 827.30,649.69 827.80,649.55 828.30,649.39 828.80,649.26 829.30,649.21 829.80,649.30 830.30,649.47 830.80,649.62 831.30,649.62 831.80,649.63 832.30,649.65 832.80,649.54 833.30,649.41 833.80,649.39 834.30,649.48 834.80,649.62 835.30,649.63 835.80,649.48 836.30,649.37 836.80,649.31 837.30,649.24 837.80,649.26 838.30,649.36 838.80,649.52 839.30,649.69 839.80,649.80 840.30,649.76 840.80,649.62 841.30,649.49 841.80,649.49 842.30,649.58 842.80,649.62 843.30,649.57 843.80,649.47 844.30,649.31 844.80,649.19 845.30,649.14 845.80,649.06 846.30,649.05 846.80,649.19 847.30,649.30 847.80,649.30 848.30,649.30 848.80,649.36 849.30,649.36 849.80,649.25 850.30,649.13 850.80,649.16 851.30,649.26 851.80,649.31 852.30,649.40 852.80,649.55 853.30,649.62 853.80,649.61 854.30,649.51 854.80,649.35 855.30,649.34 855.80,649.55 856.30,649.81 856.80,649.89 857.30,649.83 857.80,649.85 858.30,649.96 858.80,650.05 859.30,650.15 859.80,650.29 860.30,650.32 860.80,650.14 861.30,649.97 861.80,649.97 862.30,650.06 862.80,650.17 863.30,650.32 863.80,650.44 864.30,650.45 864.80,650.36 865.30,650.19 865.80,650.03 866.30,649.97 866.80,650.01 867.30,650.09 867.80,650.14 868.30,650.17 868.80,650.20 869.30,650.24 869.80,650.30 870.30,650.26 870.80,650.17 871.30,650.10 871.80,649.98 872.30,649.83 872.80,649.74 873.30,649.78 873.80,649.89 874.30,649.91 874.80,649.83 875.30,649.85 875.80,649.94 876.30,649.96 876.80,649.89 877.30,649.78 877.80,649.70 878.30,649.71 878.80,649.71 879.30,649.65 879.80,649.54 880.30,649.43 880.80,649.42 881.30,649.42 881.80,649.26 882.30,648.96 882.80,648.77 883.30,648.78 883.80,648.91 884.30,649.06 884.80,649.20 885.30,649.31 885.80,649.33 886.30,649.20 886.80,649.07 887.30,649.06 887.80,649.13 888.30,649.17 888.80,649.09 889.30,649.00 889.80,649.00 890.30,649.06 890.80,649.08 891.30,649.09 891.80,649.23 892.30,649.49 892.80,649.67 893.30,649.56 893.80,649.22 894.30,648.88 894.80,648.65 895.30,648.59 895.80,648.77 896.30,649.01 896.80,649.03 897.30,648.93 897.80,648.91 898.30,649.01 898.80,649.13 899.30,649.14 899.80,649.06 900.30,649.07 900.80,649.16 901.30,649.11 901.80,649.00 902.30,648.96 902.80,648.95 903.30,648.97 903.80,649.16 904.30,649.55 904.80,649.81 905.30,649.67 905.80,649.33 906.30,649.20 906.80,649.33 907.30,649.40 907.80,649.30 908.30,649.15 908.80,649.00 909.30,648.96 909.80,649.06 910.30,649.22 910.80,649.45 911.30,649.61 911.80,649.64 912.30,649.69 912.80,649.78 913.30,649.83 913.80,649.83 914.30,649.77 914.80,649.75 915.30,649.84 915.80,649.86 916.30,649.77 916.80,649.69 917.30,649.60 917.80,649.46 918.30,649.33 918.80,649.34 919.30,649.47 919.80,649.62 920.30,649.66 920.80,649.62 921.30,649.55 921.80,649.39 922.30,649.21 922.80,649.27 923.30,649.48 923.80,649.65 924.30,649.82 924.80,649.90 925.30,649.77 925.80,649.56 926.30,649.50 926.80,649.63 927.30,649.85 927.80,650.00 928.30,650.03 928.80,650.08 929.30,650.19 929.80,650.30 930.30,650.30 930.80,650.28 931.30,650.34 931.80,650.39 932.30,650.35 932.80,650.26 933.30,650.24 933.80,650.25 934.30,650.20 934.80,650.08 935.30,650.01 935.80,650.02 936.30,650.02 936.80,649.92 937.30,649.83 937.80,649.84 938.30,649.92 938.80,649.97 939.30,649.99 939.80,650.09 940.30,650.20 940.80,650.14 941.30,650.04 941.80,650.00 942.30,649.92 942.80,649.85 943.30,649.81 943.80,649.79 944.30,649.87 944.80,649.99 945.30,649.99 945.80,649.88 946.30,649.83 946.80,649.88 947.30,649.88 947.80,649.84 948.30,649.93 948.80,650.04 949.30,650.03 949.80,649.95 950.30,649.90 950.80,649.84 951.30,649.75 951.80,649.61 952.30,649.55 952.80,649.72 953.30,649.94 953.80,649.97 954.30,649.86 954.80,649.83 955.30,649.94 955.80,650.10 956.30,650.24 956.80,650.25 957.30,650.09 957.80,649.87 958.30,649.70 958.80,649.68 959.30,649.88 959.80,650.12 960.30,650.23 960.80,650.24 961.30,650.17 961.80,650.01 962.30,649.84 962.80,649.74 963.30,649.69 963.80,649.66 964.30,649.65 964.80,649.70 965.30,649.74 965.80,649.72 966.30,649.67 966.80,649.67 967.30,649.70 967.80,649.69 968.30,649.57 968.80,649.44 969.30,649.51 969.80,649.64 970.30,649.65 970.80,649.61 971.30,649.67 971.80,649.78 972.30,649.88 972.80,649.94 973.30,649.94 973.80,649.81 974.30,649.72 974.80,649.78 975.30,649.98 975.80,650.19 976.30,650.19 976.80,649.99 977.30,649.84 977.80,649.83 978.30,649.82 978.80,649.77 979.30,649.67 979.80,649.57 980.30,649.55 980.80,649.74 981.30,649.99 981.80,650.06 982.30,649.94 982.80,649.85 983.30,649.78 983.80,649.69 984.30,649.60 984.80,649.50 985.30,649.40 985.80,649.41 986.30,649.47 986.80,649.50 987.30,649.54 987.70,649.63" fill="none" stroke="#0000FF" stroke-width="3.6" stroke-linejoin="round" stroke-linecap="round"/>
<polygon points="560.75,12.75 576.15,12.75 568.45,28.05" fill="none" stroke="#000" stroke-width="1.35" stroke-linejoin="round"/>
<polygon points="166.45,207.60 174.35,223.50 158.55,223.50" fill="#000"/>
<polygon points="560.75,268.70 576.15,268.70 568.45,284.00" fill="none" stroke="#000" stroke-width="1.35" stroke-linejoin="round"/>
<polygon points="166.45,463.20 174.35,479.10 158.55,479.10" fill="#000"/>
<polygon points="560.75,528.70 576.15,528.70 568.45,544.00" fill="none" stroke="#000" stroke-width="1.35" stroke-linejoin="round"/>
<polygon points="166.45,722.50 174.35,738.40 158.55,738.40" fill="#000"/>
<text transform="translate(303.30 79.80) scale(1 1.035)" class="an">IL-1, IL-6</text>
<text transform="translate(303.30 103.90) scale(1 1.035)" class="an">input signal</text>
<text transform="translate(534.40 350.20) scale(1 1.035)" text-anchor="middle" class="an" style="fill:#FFA500;letter-spacing:0.35px;stroke:#FFA500;letter-spacing:0.35px">pSTAT3</text>
<text transform="translate(534.80 382.50) scale(1 1.035)" text-anchor="middle" class="an" style="fill:#008B00;stroke:#008B00">NF-κB</text>
<text transform="translate(534.80 443.40) scale(1 1.035)" text-anchor="middle" class="an" style="fill:#A020F0;stroke:#A020F0">FG</text>
<text transform="translate(527.80 595.20) scale(1 1.035)" text-anchor="middle" class="an" style="fill:#FF0000;stroke:#FF0000">miR-21</text>
<text transform="translate(528.00 646.00) scale(1 1.035)" text-anchor="middle" class="an" style="fill:#0000FF;stroke:#0000FF">miR-146a</text>
<text transform="translate(570.90 807.00)" text-anchor="middle" class="ti" style="font-size:31.1px">Time Steps (a.u.)</text>
<text transform="translate(30.00 378.40) rotate(-90)" text-anchor="middle" class="ti" style="font-size:31.25px">Expression Level (Tokens)</text>
</svg></body></html>
